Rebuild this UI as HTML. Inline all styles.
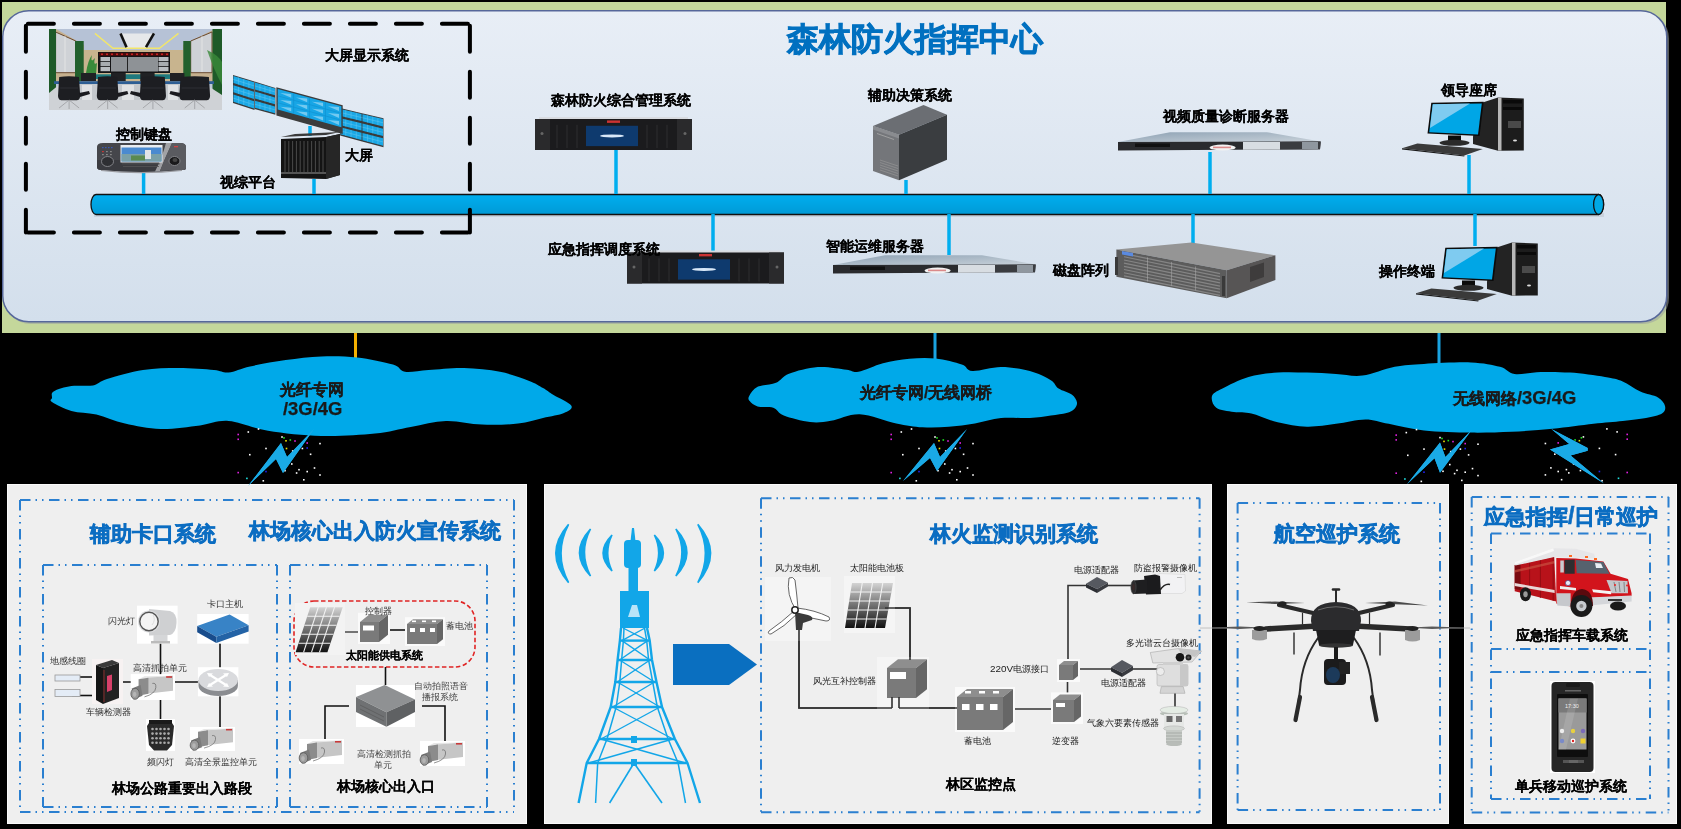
<!DOCTYPE html>
<html><head><meta charset="utf-8"><style>
html,body{margin:0;padding:0;}
body{width:1681px;height:829px;background:#000;position:relative;overflow:hidden;font-family:"Liberation Sans",sans-serif;}
svg{position:absolute;left:0;top:0;}
.t{position:absolute;line-height:1;white-space:nowrap;will-change:transform;}
</style></head><body>
<svg width="1681" height="829" viewBox="0 0 1681 829">
<defs>
<linearGradient id="gPanel" x1="0" y1="0" x2="0" y2="1"><stop offset="0" stop-color="#e8eef6"/><stop offset="1" stop-color="#d3dfec"/></linearGradient>
<linearGradient id="gBar" x1="0" y1="0" x2="0" y2="1"><stop offset="0" stop-color="#00aeef"/><stop offset="1" stop-color="#009ad6"/></linearGradient>
<linearGradient id="g1u" x1="0" y1="0" x2="1" y2="1"><stop offset="0" stop-color="#8ea2b4"/><stop offset="1" stop-color="#c9d2da"/></linearGradient>
<linearGradient id="gSolar" x1="0" y1="0" x2="0" y2="1"><stop offset="0" stop-color="#d4d4d4"/><stop offset="0.5" stop-color="#707070"/><stop offset="1" stop-color="#111"/></linearGradient>
</defs>
<rect x="2" y="2" width="1664" height="331" fill="#c4d79b"/><rect x="4.5" y="12.5" width="1664.5" height="311.5" rx="26" fill="#9aa0a0" opacity="0.55"/><rect x="2.75" y="10.75" width="1664" height="311" rx="26" fill="url(#gPanel)" stroke="#56679a" stroke-width="1.5"/><rect x="94" y="213" width="1510" height="4" fill="#000" opacity="0.08"/><path d="M96,194.5 L1598.6,194.5 A5,10 0 0 1 1598.6,214.5 L96,214.5 A5,10 0 0 1 96,194.5 Z" fill="url(#gBar)" stroke="#111" stroke-width="1.3"/><ellipse cx="1598.6" cy="204.5" rx="5" ry="10" fill="#00a8e4" stroke="#111" stroke-width="1.3"/><g fill="none" stroke="#000" stroke-width="4" stroke-dasharray="26 20" stroke-dashoffset="-2" stroke-linecap="round"><path d="M25.9,23.7 H469.9"/><path d="M469.9,23.7 V232.6"/><path d="M469.9,232.6 H25.9"/><path d="M25.9,23.7 V232.6"/></g><line x1="143.6" y1="172" x2="143.6" y2="194" stroke="#00aeef" stroke-width="3.5"/><line x1="314" y1="179" x2="314" y2="194" stroke="#00aeef" stroke-width="3.5"/><line x1="310" y1="126" x2="310" y2="136" stroke="#00aeef" stroke-width="3.5"/><line x1="616" y1="150" x2="616" y2="194" stroke="#00aeef" stroke-width="3.5"/><line x1="906" y1="180" x2="906" y2="194" stroke="#00aeef" stroke-width="3.5"/><line x1="1210" y1="152" x2="1210" y2="194" stroke="#00aeef" stroke-width="3.5"/><line x1="1469" y1="155" x2="1469" y2="194" stroke="#00aeef" stroke-width="3.5"/><line x1="713" y1="214" x2="713" y2="252" stroke="#00aeef" stroke-width="3.5"/><line x1="949" y1="214" x2="949" y2="255" stroke="#00aeef" stroke-width="3.5"/><line x1="1193" y1="214" x2="1193" y2="243" stroke="#00aeef" stroke-width="3.5"/><line x1="1475" y1="214" x2="1475" y2="246" stroke="#00aeef" stroke-width="3.5"/><line x1="355.5" y1="333" x2="355.5" y2="360" stroke="#f5b000" stroke-width="3"/><line x1="935" y1="333" x2="935" y2="360" stroke="#1aa3e0" stroke-width="3"/><line x1="1439" y1="333" x2="1439" y2="364" stroke="#1aa3e0" stroke-width="3"/><g fill="#00a9e9"><path d="M52.0,398.0 C52.3,396.2 50.4,393.4 53.6,391.4 C56.8,389.4 64.8,387.0 71.4,386.0 C78.0,385.0 87.1,386.6 93.0,385.4 C98.9,384.2 98.7,381.6 107.0,379.0 C115.3,376.4 131.1,371.8 143.0,370.0 C154.9,368.2 166.8,368.0 178.6,368.0 C190.4,368.0 205.7,369.2 214.0,370.0 C222.3,370.8 222.6,373.1 228.6,372.5 C234.6,371.9 240.5,368.5 250.0,366.4 C259.5,364.3 273.8,361.7 285.7,360.0 C297.6,358.3 309.5,356.8 321.4,356.4 C333.3,356.0 345.1,356.1 357.0,357.5 C368.9,358.9 385.0,362.2 393.0,364.6 C401.0,367.0 399.1,370.9 405.0,371.8 C410.9,372.7 418.8,370.6 428.6,370.0 C438.4,369.4 452.1,367.7 464.0,368.0 C475.9,368.3 489.2,369.7 500.0,371.8 C510.8,373.9 521.4,378.0 528.6,380.7 C535.8,383.4 538.8,385.6 543.0,388.0 C547.2,390.4 548.9,392.1 553.6,395.0 C558.3,397.9 569.7,402.7 571.4,405.7 C573.1,408.7 568.7,410.9 564.0,413.0 C559.3,415.1 550.7,416.2 543.0,418.0 C535.3,419.8 528.2,422.5 518.0,423.6 C507.8,424.7 494.0,425.0 482.0,424.6 C470.0,424.2 457.9,420.6 446.0,421.0 C434.1,421.4 422.5,424.9 410.7,427.0 C398.9,429.1 389.9,432.1 375.0,433.6 C360.1,435.1 339.2,436.5 321.4,436.0 C303.6,435.5 283.5,433.2 268.0,430.7 C252.5,428.2 239.9,421.9 228.6,421.0 C217.3,420.1 211.3,424.1 200.0,425.4 C188.7,426.7 173.2,429.3 160.7,429.0 C148.2,428.7 135.7,426.0 125.0,423.6 C114.3,421.2 105.3,416.7 96.4,414.6 C87.5,412.5 78.8,413.1 71.4,411.0 C64.0,408.9 55.2,404.2 52.0,402.0 C48.8,399.8 51.7,399.8 52.0,398.0 Z"/><path d="M749.2,396.0 C750.5,393.6 753.1,389.0 757.6,386.8 C762.1,384.6 770.8,385.0 776.0,382.8 C781.2,380.6 782.0,376.3 789.0,373.7 C796.0,371.1 808.2,367.7 817.8,367.0 C827.4,366.3 839.8,368.9 846.6,369.7 C853.4,370.5 852.3,372.9 858.4,371.8 C864.5,370.7 874.5,365.4 883.0,363.2 C891.5,361.0 900.6,359.5 909.4,358.7 C918.2,357.9 926.9,357.5 935.6,358.5 C944.3,359.5 955.7,362.4 961.8,364.5 C967.9,366.6 965.8,370.6 972.3,371.0 C978.8,371.4 991.4,367.0 1001.0,367.0 C1010.6,367.0 1021.5,368.8 1029.8,371.0 C1038.1,373.2 1046.0,377.3 1050.8,380.2 C1055.6,383.1 1055.1,386.2 1058.6,388.6 C1062.1,391.0 1068.6,392.3 1071.7,394.6 C1074.8,396.9 1076.6,400.1 1077.0,402.5 C1077.4,404.9 1076.0,407.2 1074.3,409.0 C1072.5,410.8 1070.4,411.9 1066.5,413.0 C1062.6,414.1 1056.9,414.7 1050.8,415.5 C1044.7,416.3 1038.1,417.6 1029.8,418.0 C1021.5,418.4 1010.1,417.1 1001.0,418.0 C991.9,418.9 983.6,421.9 974.9,423.4 C966.2,424.9 957.4,426.1 948.7,426.8 C940.0,427.5 931.2,427.9 922.5,427.3 C913.8,426.7 906.8,425.6 896.3,423.4 C885.8,421.2 870.6,414.6 859.7,414.2 C848.8,413.8 839.2,419.5 830.9,420.8 C822.6,422.1 817.9,422.9 810.0,422.0 C802.1,421.1 789.9,417.9 783.8,415.5 C777.7,413.1 777.7,409.2 773.3,407.7 C768.9,406.2 761.5,407.5 757.6,406.4 C753.7,405.3 751.1,402.7 749.7,401.0 C748.3,399.3 747.9,398.4 749.2,396.0 Z"/><path d="M1212.0,396.0 C1213.0,392.8 1215.9,391.9 1222.0,388.7 C1228.1,385.5 1239.2,379.7 1248.5,377.0 C1257.8,374.3 1268.0,373.3 1277.7,372.6 C1287.5,371.9 1297.3,372.4 1307.0,372.6 C1316.7,372.8 1326.8,373.5 1336.0,374.0 C1345.2,374.5 1352.7,376.8 1362.5,375.6 C1372.3,374.4 1384.5,368.8 1394.7,366.8 C1405.0,364.9 1411.3,364.6 1424.0,363.9 C1436.7,363.2 1458.3,361.9 1471.0,362.4 C1483.7,362.9 1492.7,364.9 1500.0,366.8 C1507.3,368.7 1507.8,373.1 1514.6,374.0 C1521.4,374.9 1531.8,372.2 1541.0,372.0 C1550.2,371.8 1559.3,371.8 1570.0,372.6 C1580.7,373.4 1596.2,375.5 1605.0,377.0 C1613.8,378.5 1616.8,379.0 1622.7,381.4 C1628.6,383.8 1634.4,388.9 1640.3,391.6 C1646.2,394.3 1653.9,395.1 1658.0,397.5 C1662.1,399.9 1664.3,403.3 1665.0,406.0 C1665.7,408.7 1665.2,411.6 1662.0,413.6 C1658.8,415.6 1652.5,416.8 1646.0,418.0 C1639.5,419.2 1631.5,420.0 1622.7,421.0 C1614.0,422.0 1605.2,422.5 1593.5,423.8 C1581.8,425.1 1566.2,427.5 1552.6,428.8 C1538.9,430.1 1525.2,431.1 1511.6,431.7 C1498.0,432.3 1485.6,432.8 1471.0,432.6 C1456.4,432.4 1437.7,432.0 1424.0,430.5 C1410.3,429.0 1398.6,425.7 1388.8,423.8 C1379.0,421.9 1374.2,419.4 1365.4,419.4 C1356.6,419.4 1345.7,422.6 1336.0,423.8 C1326.3,425.0 1316.7,426.9 1307.0,426.7 C1297.3,426.4 1287.0,424.5 1277.7,422.3 C1268.4,420.1 1258.7,415.3 1251.4,413.6 C1244.1,411.9 1239.8,413.0 1233.9,412.0 C1228.1,411.0 1220.0,410.4 1216.3,407.7 C1212.6,405.0 1211.0,399.2 1212.0,396.0 Z"/></g><g fill="#1aaae6"><polygon points="248,486 281,443 287,457 314,429 283,473 276,459"/><polygon points="903,481 934,443 940,457 967,429 937,471 930,458"/><polygon points="1407,484.3 1440,442.6 1445.4,457 1472,429.6 1440,472.7 1434.5,458.3"/><polygon points="1551.4,428.9 1587.7,448 1587.7,450.8 1570.6,455.6 1604,483.6 1550,449.4 1569.2,444"/></g><rect x="7.5" y="484.5" width="519" height="339" fill="#efefef" stroke="#fafafa" stroke-width="1"/><rect x="544.5" y="484.5" width="667" height="339" fill="#efefef" stroke="#fafafa" stroke-width="1"/><rect x="1227.5" y="484.5" width="221" height="339" fill="#efefef" stroke="#fafafa" stroke-width="1"/><rect x="1464.5" y="484.5" width="212" height="339" fill="#efefef" stroke="#fafafa" stroke-width="1"/><g stroke="#2a7fd0" stroke-width="2" fill="none" stroke-dasharray="10.5 5 1.5 5 1.5 5.5"><path d="M20,500 H514"/><path d="M20,812 H514"/><path d="M20,500 V812"/><path d="M514,500 V812"/></g><g stroke="#2a7fd0" stroke-width="2" fill="none" stroke-dasharray="10.5 5 1.5 5 1.5 5.5"><path d="M43,565 H277"/><path d="M43,807 H277"/><path d="M43,565 V807"/><path d="M277,565 V807"/></g><g stroke="#2a7fd0" stroke-width="2" fill="none" stroke-dasharray="10.5 5 1.5 5 1.5 5.5"><path d="M290,565 H487"/><path d="M290,807 H487"/><path d="M290,565 V807"/><path d="M487,565 V807"/></g><g stroke="#2a7fd0" stroke-width="2" fill="none" stroke-dasharray="10.5 5 1.5 5 1.5 5.5"><path d="M761,498.3 H1199.6"/><path d="M761,812.2 H1199.6"/><path d="M761,498.3 V812.2"/><path d="M1199.6,498.3 V812.2"/></g><g stroke="#2a7fd0" stroke-width="2" fill="none" stroke-dasharray="10.5 5 1.5 5 1.5 5.5"><path d="M1237.6,503 H1440"/><path d="M1237.6,810 H1440"/><path d="M1237.6,503 V810"/><path d="M1440,503 V810"/></g><g stroke="#2a7fd0" stroke-width="2" fill="none" stroke-dasharray="10.5 5 1.5 5 1.5 5.5"><path d="M1471.7,497 H1668.5"/><path d="M1471.7,812.5 H1668.5"/><path d="M1471.7,497 V812.5"/><path d="M1668.5,497 V812.5"/></g><g stroke="#2a7fd0" stroke-width="2" fill="none" stroke-dasharray="10.5 5 1.5 5 1.5 5.5"><path d="M1491,533.5 H1650"/><path d="M1491,799 H1650"/><path d="M1491,533.5 V799"/><path d="M1650,533.5 V799"/></g><line x1="1491" y1="649" x2="1650" y2="649" stroke="#2a7fd0" stroke-width="2" fill="none" stroke-dasharray="10.5 5 1.5 5 1.5 5.5"/><line x1="1491" y1="672" x2="1650" y2="672" stroke="#2a7fd0" stroke-width="2" fill="none" stroke-dasharray="10.5 5 1.5 5 1.5 5.5"/><rect x="294" y="601" width="181" height="66" rx="20" fill="none" stroke="#e02424" stroke-width="1.6" stroke-dasharray="4.5 2.5"/>
<g>
<rect x="49" y="29" width="173" height="81" fill="#bcc6d6"/>
<polygon points="56,29 215,29 183,50 84,50" fill="#b6c2d6"/>
<polygon points="56,29 84,45 84,84 56,84" fill="#c6b08e"/>
<polygon points="55.6,32 75.8,41 75.8,72.7 55.6,72.7" fill="#cfd2d6" stroke="#6a4a30" stroke-width="1"/>
<line x1="65" y1="36" x2="65" y2="72" stroke="#e8e8e8" stroke-width="0.8"/>
<polygon points="84,50 183,50 183,84 84,84" fill="#c8b48e"/>
<polygon points="119.3,33.4 155.2,33.4 145.6,48.3 126.7,48.3" fill="#e6e8ea"/>
<polyline points="94.9,33.4 113,48.3 159.4,48.3 178.5,33.4" fill="none" stroke="#f2e66a" stroke-width="1.4"/>
<line x1="120.5" y1="33.4" x2="126.5" y2="47.2" stroke="#111" stroke-width="2.6"/>
<line x1="154" y1="33.4" x2="146" y2="47.2" stroke="#111" stroke-width="2.6"/>

<polygon points="215,29 183,45 183,84 215,84" fill="#c6b08e"/>
<polygon points="212,32 190.7,41 190.7,72.7 212,72.7" fill="#cfd2d6" stroke="#6a4a30" stroke-width="1"/>
<line x1="202" y1="36" x2="202" y2="72" stroke="#e8e8e8" stroke-width="0.8"/>
<rect x="49" y="29" width="7" height="66" fill="#1e5a28"/>
<rect x="75" y="41" width="8.7" height="40" fill="#22602c"/>
<rect x="183.3" y="41" width="7.4" height="40" fill="#22602c"/>
<rect x="212.5" y="29" width="9.5" height="66" fill="#1e5a28"/>
<path d="M86,73 Q88,60 92,55 Q90,64 95,58 Q93,66 97,63 L96,74 Z" fill="#3a8a3a"/>
<path d="M207,50 Q218,55 222,62 L222,85 Q214,70 207,50 Z" fill="#3a8a3a" opacity="0.8"/>
<rect x="98" y="52" width="72" height="21" fill="#141416"/>
<rect x="99" y="52.8" width="70" height="3" fill="#4a0c0c"/>
<g fill="#c82020"><rect x="101" y="53.5" width="2" height="1.6"/><rect x="106" y="53.5" width="2" height="1.6"/><rect x="111" y="53.5" width="2" height="1.6"/><rect x="116" y="53.5" width="2" height="1.6"/><rect x="121" y="53.5" width="2" height="1.6"/><rect x="126" y="53.5" width="2" height="1.6"/><rect x="131" y="53.5" width="2" height="1.6"/><rect x="136" y="53.5" width="2" height="1.6"/><rect x="141" y="53.5" width="2" height="1.6"/><rect x="146" y="53.5" width="2" height="1.6"/><rect x="151" y="53.5" width="2" height="1.6"/><rect x="156" y="53.5" width="2" height="1.6"/><rect x="161" y="53.5" width="2" height="1.6"/><rect x="166" y="53.5" width="2" height="1.6"/></g>
<rect x="100.5" y="57" width="9.5" height="4.2" fill="#b8bcc0"/><rect x="100.5" y="62" width="9.5" height="4.2" fill="#a8acb0"/><rect x="100.5" y="67" width="9.5" height="4.2" fill="#b8bcc0"/>
<rect x="111" y="57" width="47" height="14.5" fill="#8e9296"/>
<rect x="127" y="57" width="1" height="14.5" fill="#222"/>
<rect x="158.5" y="57" width="10" height="4.2" fill="#b8bcc0"/><rect x="158.5" y="62" width="10" height="4.2" fill="#a8acb0"/><rect x="158.5" y="67" width="10" height="4.2" fill="#b8bcc0"/>
<rect x="84" y="74.3" width="99" height="4.7" fill="#1f7a7e"/>
<rect x="81" y="73" width="15" height="8" fill="#202124"/><rect x="111" y="73" width="14.7" height="8" fill="#202124"/><rect x="140.3" y="73" width="14.3" height="8" fill="#202124"/><rect x="170" y="73" width="14.4" height="8" fill="#202124"/>
<polygon points="49,93 60,84 205,84 222,95 222,110 49,110" fill="#cfd2d6"/>
<rect x="54" y="81.2" width="160" height="2.8" fill="#2d5e94"/>
<rect x="62" y="84" width="145" height="16" fill="#c4c8cc"/>
<g fill="#e0e2e4"><rect x="82" y="85" width="10" height="15"/><rect x="122" y="85" width="12" height="15"/><rect x="168" y="85" width="10" height="15"/></g>
<path d="M59.2,77 Q69.1,75.5 79,77 L80,93 Q81,100 77,100.3 L61.2,100.3 Q57.2,100 58.2,93 Z" fill="#1d1e22"/><path d="M60.2,88 L78,88" stroke="#2e2f34" stroke-width="1"/><path d="M79,93 L89,91 L90,94 L80,97 Z" fill="#1a1a1e"/><g stroke="#9a9ca0" stroke-width="0.8"><line x1="69.1" y1="100" x2="59.099999999999994" y2="108"/><line x1="69.1" y1="100" x2="79.1" y2="108"/><line x1="69.1" y1="100" x2="69.1" y2="109"/></g><path d="M98,77 Q107.65,75.5 117.3,77 L118.3,93 Q119.3,100 115.3,100.3 L100,100.3 Q96,100 97,93 Z" fill="#1d1e22"/><path d="M99,88 L116.3,88" stroke="#2e2f34" stroke-width="1"/><path d="M117.3,93 L127.3,91 L128.3,94 L118.3,97 Z" fill="#1a1a1e"/><g stroke="#9a9ca0" stroke-width="0.8"><line x1="107.65" y1="100" x2="97.65" y2="108"/><line x1="107.65" y1="100" x2="117.65" y2="108"/><line x1="107.65" y1="100" x2="107.65" y2="109"/></g><path d="M141,77 Q152.9,75.5 164.8,77 L165.8,93 Q166.8,100 162.8,100.3 L143,100.3 Q139,100 140,93 Z" fill="#1d1e22"/><path d="M142,88 L163.8,88" stroke="#2e2f34" stroke-width="1"/><path d="M141,93 L131,91 L130,94 L140,97 Z" fill="#1a1a1e"/><g stroke="#9a9ca0" stroke-width="0.8"><line x1="152.9" y1="100" x2="142.9" y2="108"/><line x1="152.9" y1="100" x2="162.9" y2="108"/><line x1="152.9" y1="100" x2="152.9" y2="109"/></g><path d="M180.5,77 Q194.7,75.5 208.9,77 L209.9,93 Q210.9,100 206.9,100.3 L182.5,100.3 Q178.5,100 179.5,93 Z" fill="#1d1e22"/><path d="M181.5,88 L207.9,88" stroke="#2e2f34" stroke-width="1"/><path d="M180.5,93 L170.5,91 L169.5,94 L179.5,97 Z" fill="#1a1a1e"/><g stroke="#9a9ca0" stroke-width="0.8"><line x1="194.7" y1="100" x2="184.7" y2="108"/><line x1="194.7" y1="100" x2="204.7" y2="108"/><line x1="194.7" y1="100" x2="194.7" y2="109"/></g></g><g><polygon points="233.00,74.90 254.50,81.50 254.50,110.00 233.00,103.00" fill="#3a3a3a" /><polygon points="233.43,75.88 254.07,82.22 254.07,89.44 233.43,83.00" fill="#1aa8e6" /><line x1="238.59" y1="77.46" x2="238.59" y2="84.61" stroke="#66c6ef" stroke-width="0.5"/><line x1="243.75" y1="79.05" x2="243.75" y2="86.22" stroke="#66c6ef" stroke-width="0.5"/><line x1="248.91" y1="80.64" x2="248.91" y2="87.83" stroke="#66c6ef" stroke-width="0.5"/><line x1="233.43" y1="79.44" x2="254.07" y2="85.83" stroke="#66c6ef" stroke-width="0.5"/><polygon points="233.43,85.24 254.07,91.72 254.07,98.94 233.43,92.37" fill="#1aa8e6" /><line x1="238.59" y1="86.86" x2="238.59" y2="94.01" stroke="#66c6ef" stroke-width="0.5"/><line x1="243.75" y1="88.48" x2="243.75" y2="95.65" stroke="#66c6ef" stroke-width="0.5"/><line x1="248.91" y1="90.10" x2="248.91" y2="97.29" stroke="#66c6ef" stroke-width="0.5"/><line x1="233.43" y1="88.80" x2="254.07" y2="95.33" stroke="#66c6ef" stroke-width="0.5"/><polygon points="233.43,94.61 254.07,101.22 254.07,108.44 233.43,101.73" fill="#1aa8e6" /><line x1="238.59" y1="96.26" x2="238.59" y2="103.41" stroke="#66c6ef" stroke-width="0.5"/><line x1="243.75" y1="97.92" x2="243.75" y2="105.09" stroke="#66c6ef" stroke-width="0.5"/><line x1="248.91" y1="99.57" x2="248.91" y2="106.76" stroke="#66c6ef" stroke-width="0.5"/><line x1="233.43" y1="98.17" x2="254.07" y2="104.83" stroke="#66c6ef" stroke-width="0.5"/><polygon points="254.50,81.50 275.40,87.90 275.40,114.70 254.50,109.00" fill="#3a3a3a" /><polygon points="254.92,82.45 274.98,88.58 274.98,95.37 254.92,89.42" fill="#1aa8e6" /><line x1="259.93" y1="83.98" x2="259.93" y2="90.90" stroke="#66c6ef" stroke-width="0.5"/><line x1="264.95" y1="85.51" x2="264.95" y2="92.39" stroke="#66c6ef" stroke-width="0.5"/><line x1="269.97" y1="87.05" x2="269.97" y2="93.88" stroke="#66c6ef" stroke-width="0.5"/><line x1="254.92" y1="85.93" x2="274.98" y2="91.97" stroke="#66c6ef" stroke-width="0.5"/><polygon points="254.92,91.61 274.98,97.51 274.98,104.31 254.92,98.58" fill="#1aa8e6" /><line x1="259.93" y1="93.09" x2="259.93" y2="100.01" stroke="#66c6ef" stroke-width="0.5"/><line x1="264.95" y1="94.56" x2="264.95" y2="101.44" stroke="#66c6ef" stroke-width="0.5"/><line x1="269.97" y1="96.04" x2="269.97" y2="102.87" stroke="#66c6ef" stroke-width="0.5"/><line x1="254.92" y1="95.10" x2="274.98" y2="100.91" stroke="#66c6ef" stroke-width="0.5"/><polygon points="254.92,100.78 274.98,106.45 274.98,113.25 254.92,107.74" fill="#1aa8e6" /><line x1="259.93" y1="102.20" x2="259.93" y2="109.12" stroke="#66c6ef" stroke-width="0.5"/><line x1="264.95" y1="103.61" x2="264.95" y2="110.49" stroke="#66c6ef" stroke-width="0.5"/><line x1="269.97" y1="105.03" x2="269.97" y2="111.87" stroke="#66c6ef" stroke-width="0.5"/><line x1="254.92" y1="104.26" x2="274.98" y2="109.85" stroke="#66c6ef" stroke-width="0.5"/><polygon points="340.10,108.10 362.00,113.20 362.00,141.50 340.10,135.60" fill="#3a3a3a" /><polygon points="340.54,109.03 361.56,113.95 361.56,121.11 340.54,116.00" fill="#1aa8e6" /><line x1="345.79" y1="110.26" x2="345.79" y2="117.28" stroke="#66c6ef" stroke-width="0.5"/><line x1="351.05" y1="111.49" x2="351.05" y2="118.56" stroke="#66c6ef" stroke-width="0.5"/><line x1="356.31" y1="112.72" x2="356.31" y2="119.83" stroke="#66c6ef" stroke-width="0.5"/><line x1="340.54" y1="112.51" x2="361.56" y2="117.53" stroke="#66c6ef" stroke-width="0.5"/><polygon points="340.54,118.20 361.56,123.37 361.56,130.54 340.54,125.17" fill="#1aa8e6" /><line x1="345.79" y1="119.49" x2="345.79" y2="126.51" stroke="#66c6ef" stroke-width="0.5"/><line x1="351.05" y1="120.79" x2="351.05" y2="127.86" stroke="#66c6ef" stroke-width="0.5"/><line x1="356.31" y1="122.08" x2="356.31" y2="129.20" stroke="#66c6ef" stroke-width="0.5"/><line x1="340.54" y1="121.68" x2="361.56" y2="126.96" stroke="#66c6ef" stroke-width="0.5"/><polygon points="340.54,127.37 361.56,132.80 361.56,139.97 340.54,134.34" fill="#1aa8e6" /><line x1="345.79" y1="128.73" x2="345.79" y2="135.75" stroke="#66c6ef" stroke-width="0.5"/><line x1="351.05" y1="130.09" x2="351.05" y2="137.16" stroke="#66c6ef" stroke-width="0.5"/><line x1="356.31" y1="131.44" x2="356.31" y2="138.56" stroke="#66c6ef" stroke-width="0.5"/><line x1="340.54" y1="130.86" x2="361.56" y2="136.39" stroke="#66c6ef" stroke-width="0.5"/><polygon points="362.00,113.20 383.50,118.30 383.50,147.20 362.00,141.50" fill="#3a3a3a" /><polygon points="362.43,114.15 383.07,119.06 383.07,126.38 362.43,121.32" fill="#1aa8e6" /><line x1="367.59" y1="115.38" x2="367.59" y2="122.59" stroke="#66c6ef" stroke-width="0.5"/><line x1="372.75" y1="116.61" x2="372.75" y2="123.85" stroke="#66c6ef" stroke-width="0.5"/><line x1="377.91" y1="117.84" x2="377.91" y2="125.12" stroke="#66c6ef" stroke-width="0.5"/><line x1="362.43" y1="117.74" x2="383.07" y2="122.72" stroke="#66c6ef" stroke-width="0.5"/><polygon points="362.43,123.59 383.07,128.69 383.07,136.01 362.43,130.76" fill="#1aa8e6" /><line x1="367.59" y1="124.87" x2="367.59" y2="132.07" stroke="#66c6ef" stroke-width="0.5"/><line x1="372.75" y1="126.14" x2="372.75" y2="133.39" stroke="#66c6ef" stroke-width="0.5"/><line x1="377.91" y1="127.42" x2="377.91" y2="134.70" stroke="#66c6ef" stroke-width="0.5"/><line x1="362.43" y1="127.17" x2="383.07" y2="132.35" stroke="#66c6ef" stroke-width="0.5"/><polygon points="362.43,133.03 383.07,138.32 383.07,145.64 362.43,140.20" fill="#1aa8e6" /><line x1="367.59" y1="134.35" x2="367.59" y2="141.56" stroke="#66c6ef" stroke-width="0.5"/><line x1="372.75" y1="135.67" x2="372.75" y2="142.92" stroke="#66c6ef" stroke-width="0.5"/><line x1="377.91" y1="137.00" x2="377.91" y2="144.28" stroke="#66c6ef" stroke-width="0.5"/><line x1="362.43" y1="136.61" x2="383.07" y2="141.98" stroke="#66c6ef" stroke-width="0.5"/><polygon points="276.40,87.20 342.70,105.30 342.70,134.00 276.40,115.40" fill="#3c3c3c" /><polygon points="277.73,88.97 341.37,106.37 341.37,127.32 277.73,109.57" fill="#17a6e6" /><line x1="293.64" y1="93.32" x2="293.64" y2="114.00" stroke="#0f8fcf" stroke-width="0.6"/><line x1="309.55" y1="97.67" x2="309.55" y2="118.44" stroke="#0f8fcf" stroke-width="0.6"/><line x1="325.46" y1="102.02" x2="325.46" y2="122.88" stroke="#0f8fcf" stroke-width="0.6"/><polygon points="280.11,93.06 291.25,94.05 291.25,97.84" fill="#bfe6f8" opacity="0.55"/><polygon points="296.02,97.42 307.16,98.40 307.16,102.21" fill="#bfe6f8" opacity="0.55"/><polygon points="311.94,101.79 323.08,102.76 323.08,106.58" fill="#bfe6f8" opacity="0.55"/><polygon points="327.85,106.15 338.99,107.12 338.99,110.95" fill="#bfe6f8" opacity="0.55"/><polygon points="280.11,99.93 291.25,100.94 291.25,104.73" fill="#bfe6f8" opacity="0.55"/><polygon points="296.02,104.32 307.16,105.32 307.16,109.13" fill="#bfe6f8" opacity="0.55"/><polygon points="311.94,108.72 323.08,109.71 323.08,113.53" fill="#bfe6f8" opacity="0.55"/><polygon points="327.85,113.11 338.99,114.09 338.99,117.93" fill="#bfe6f8" opacity="0.55"/><polygon points="280.11,106.80 291.25,107.83 291.25,111.62" fill="#bfe6f8" opacity="0.55"/><polygon points="296.02,111.22 307.16,112.24 307.16,116.05" fill="#bfe6f8" opacity="0.55"/><polygon points="311.94,115.64 323.08,116.65 323.08,120.48" fill="#bfe6f8" opacity="0.55"/><polygon points="327.85,120.07 338.99,121.07 338.99,124.91" fill="#bfe6f8" opacity="0.55"/><line x1="277.73" y1="95.83" x2="341.37" y2="113.35" stroke="#0f8fcf" stroke-width="0.6"/><line x1="277.73" y1="102.71" x2="341.37" y2="120.34" stroke="#0f8fcf" stroke-width="0.6"/></g><g>
<path d="M97,147 Q97,143 103,143 L180,143 Q186,143 186,147 L186,168 Q186,170 182,170 Q141,174 101,170 Q97,170 97,167 Z" fill="#45464b"/>
<path d="M97,160 L186,160 L186,168 Q186,170 182,170 Q141,174 101,170 Q97,170 97,167 Z" fill="#3a3b40"/>
<path d="M166,143 L172,143 Q165,158 160,171 L155,171.5 Q162,158 166,143 Z" fill="#b8b9bc" opacity="0.8"/>
<path d="M172,143 L180,143 Q186,143 186,147 L186,168 Q186,170 182,170 L160,171 Q165,158 172,143 Z" fill="#5a5b60"/>
<path d="M101,170 Q141,174 182,170 L182,171 Q141,175.5 101,171 Z" fill="#9a9ba0"/>
<rect x="120.5" y="145" width="42" height="17.5" fill="#e8ecf0"/>
<rect x="121.5" y="147.5" width="40" height="14" fill="#4a8ad0"/>
<rect x="121.5" y="154" width="40" height="7.5" fill="#7aa0a8"/>
<rect x="145" y="150" width="6" height="9" fill="#e0e4e8"/>
<rect x="131" y="155.5" width="14" height="5" fill="#5a8a50"/>
<g fill="#555"><rect x="122" y="163.5" width="38" height="0.8"/><rect x="123" y="166" width="36" height="0.8"/></g>
<ellipse cx="107.5" cy="161.5" rx="6" ry="5" fill="#2e2f33" stroke="#8a8b90" stroke-width="0.9"/>
<ellipse cx="174.5" cy="161" rx="5.5" ry="4.5" fill="#1a1a1c" stroke="#8a8b90" stroke-width="0.9"/>
<ellipse cx="175" cy="160" rx="2.5" ry="2" fill="#444"/>
<g fill="#3a5ab0"><rect x="102" y="147" width="1.6" height="1.2"/><rect x="105" y="147" width="1.6" height="1.2"/><rect x="108" y="147" width="1.6" height="1.2"/><rect x="111" y="147" width="1.6" height="1.2"/></g>
<g fill="#888"><rect x="102" y="151" width="1.8" height="1.2" fill="#c33"/><rect x="106" y="151" width="1.8" height="1.2"/><rect x="110" y="151" width="1.8" height="1.2"/><rect x="102" y="154" width="1.8" height="1.2"/><rect x="106" y="154" width="1.8" height="1.2"/><rect x="110" y="154" width="1.8" height="1.2"/></g>
<rect x="174" y="146" width="4" height="1.3" fill="#c44"/>
</g><g><polygon points="281,139 326,137 340,134 340,175 326,179 281,178" fill="#141414"/><polygon points="326,137 340,134 340,175 326,179" fill="#262626"/><polygon points="281,137 326,135 340,132 295,134" fill="#3a3a3a"/><line x1="285.0" y1="141" x2="285.0" y2="173" stroke="#4a4a4a" stroke-width="1"/><line x1="288.8" y1="141" x2="288.8" y2="173" stroke="#4a4a4a" stroke-width="1"/><line x1="292.6" y1="141" x2="292.6" y2="173" stroke="#4a4a4a" stroke-width="1"/><line x1="296.4" y1="141" x2="296.4" y2="173" stroke="#4a4a4a" stroke-width="1"/><line x1="300.2" y1="141" x2="300.2" y2="173" stroke="#4a4a4a" stroke-width="1"/><line x1="304.0" y1="141" x2="304.0" y2="173" stroke="#4a4a4a" stroke-width="1"/><line x1="307.8" y1="141" x2="307.8" y2="173" stroke="#4a4a4a" stroke-width="1"/><line x1="311.6" y1="141" x2="311.6" y2="173" stroke="#4a4a4a" stroke-width="1"/><line x1="315.4" y1="141" x2="315.4" y2="173" stroke="#4a4a4a" stroke-width="1"/><line x1="319.2" y1="141" x2="319.2" y2="173" stroke="#4a4a4a" stroke-width="1"/><line x1="323.0" y1="141" x2="323.0" y2="173" stroke="#4a4a4a" stroke-width="1"/><rect x="281" y="172" width="45" height="2" fill="#555"/></g><g>
<rect x="539.0" y="117.0625" width="149.0" height="2.90625" fill="#d8dbe0"/>
<rect x="535" y="119" width="157" height="31" fill="#1b1b1d"/>
<rect x="535.0" y="119.0" width="15.0" height="31" fill="#2a2a2c"/>
<rect x="677.0" y="119.0" width="15.0" height="31" fill="#2a2a2c"/>
<rect x="586.0" y="125.78125" width="52.0" height="20.34375" fill="#0e3a6e"/>
<ellipse cx="612.0" cy="135.953125" rx="12.0" ry="1.55" fill="#d8e8f8"/>
<rect x="607.0" y="120.453125" width="13.0" height="2.421875" fill="#c33"/>
<g stroke="#2e2e30" stroke-width="1">
<line x1="557.0" y1="124.8125" x2="557.0" y2="148.0625"/><line x1="567.0" y1="124.8125" x2="567.0" y2="148.0625"/><line x1="577.0" y1="124.8125" x2="577.0" y2="148.0625"/>
<line x1="647.0" y1="124.8125" x2="647.0" y2="148.0625"/><line x1="657.0" y1="124.8125" x2="657.0" y2="148.0625"/><line x1="667.0" y1="124.8125" x2="667.0" y2="148.0625"/>
</g>
<circle cx="542.0" cy="133.53125" r="1.5" fill="#666"/><circle cx="685.0" cy="133.53125" r="1.5" fill="#666"/>
</g><g>
<rect x="631.0" y="250.5625" width="149.0" height="2.90625" fill="#d8dbe0"/>
<rect x="627" y="252.5" width="157" height="31" fill="#1b1b1d"/>
<rect x="627.0" y="252.5" width="15.0" height="31" fill="#2a2a2c"/>
<rect x="769.0" y="252.5" width="15.0" height="31" fill="#2a2a2c"/>
<rect x="678.0" y="259.28125" width="52.0" height="20.34375" fill="#0e3a6e"/>
<ellipse cx="704.0" cy="269.453125" rx="12.0" ry="1.55" fill="#d8e8f8"/>
<rect x="699.0" y="253.953125" width="13.0" height="2.421875" fill="#c33"/>
<g stroke="#2e2e30" stroke-width="1">
<line x1="649.0" y1="258.3125" x2="649.0" y2="281.5625"/><line x1="659.0" y1="258.3125" x2="659.0" y2="281.5625"/><line x1="669.0" y1="258.3125" x2="669.0" y2="281.5625"/>
<line x1="739.0" y1="258.3125" x2="739.0" y2="281.5625"/><line x1="749.0" y1="258.3125" x2="749.0" y2="281.5625"/><line x1="759.0" y1="258.3125" x2="759.0" y2="281.5625"/>
</g>
<circle cx="634.0" cy="267.03125" r="1.5" fill="#666"/><circle cx="777.0" cy="267.03125" r="1.5" fill="#666"/>
</g><g>
<polygon points="873,126 923.5,105 947,114.7 899,134.7" fill="#6b6e73"/>
<polygon points="873,126 899,134.7 899,180.3 873,171" fill="#74767a"/>
<polygon points="873,126 899,134.7 899,138.5 873,129.5" fill="#8a8c90"/>
<polygon points="899,134.7 947,114.7 947,159.7 899,180.3" fill="#3a3d40"/>
<line x1="877" y1="133.5" x2="894" y2="139.5" stroke="#aaa" stroke-width="0.8"/>
<g stroke="#999" stroke-width="0.6">
<line x1="880" y1="160" x2="898" y2="166"/><line x1="880" y1="162.5" x2="898" y2="168.5"/><line x1="880" y1="165" x2="898" y2="171"/><line x1="880" y1="167.5" x2="898" y2="173.5"/><line x1="880" y1="170" x2="898" y2="176"/>
</g>
</g><g transform="translate(0,0)">
<polygon points="1118,142 1170,132.2 1267,132.2 1320.7,141.4" fill="url(#g1u)"/>
<polygon points="1118,142 1320.7,141.4 1320,149.2 1118,150.5" fill="#2a2b2e"/>
<polygon points="1243,142 1280,142 1280,149.5 1243,149.8" fill="#d8dde2"/>
<polygon points="1280,142 1320.7,141.4 1320,149.2 1280,149.5" fill="#3a3c40"/>
<rect x="1302" y="142" width="16" height="7" fill="#8f979f"/>
<ellipse cx="1222.6" cy="147.5" rx="13" ry="3" fill="#f2f2f2"/>
<rect x="1213" y="146.6" width="18" height="1.6" fill="#c44" opacity="0.6"/>
<rect x="1135" y="143.5" width="35" height="3.5" fill="#111"/>
</g><g transform="translate(-285,123)">
<polygon points="1118,142 1170,132.2 1267,132.2 1320.7,141.4" fill="url(#g1u)"/>
<polygon points="1118,142 1320.7,141.4 1320,149.2 1118,150.5" fill="#2a2b2e"/>
<polygon points="1243,142 1280,142 1280,149.5 1243,149.8" fill="#d8dde2"/>
<polygon points="1280,142 1320.7,141.4 1320,149.2 1280,149.5" fill="#3a3c40"/>
<rect x="1302" y="142" width="16" height="7" fill="#8f979f"/>
<ellipse cx="1222.6" cy="147.5" rx="13" ry="3" fill="#f2f2f2"/>
<rect x="1213" y="146.6" width="18" height="1.6" fill="#c44" opacity="0.6"/>
<rect x="1135" y="143.5" width="35" height="3.5" fill="#111"/>
</g><g transform="translate(0,0)">
<polygon points="1478,104 1498,97.6 1498,150.8 1473,144 1473,137" fill="#232323"/>
<polygon points="1498,97.6 1523.8,98.4 1523.8,150.4 1498,150.8" fill="#1c1c1c"/>
<rect x="1498" y="97.6" width="3.5" height="53" fill="#b8b8b8"/>
<rect x="1503" y="100" width="19" height="3.5" fill="#0a0a0a"/>
<rect x="1503" y="107" width="19" height="3" fill="#0a0a0a"/>
<rect x="1508" y="121" width="13" height="7" fill="#4a4a4a"/>
<ellipse cx="1515" cy="140.5" rx="2" ry="1" fill="#ddd"/>
<polygon points="1431.3,102.7 1483.7,101.8 1479.5,136 1427.5,133.5" fill="#0b0b0b"/>
<polygon points="1432.8,104.2 1481.8,103.4 1478,134.5 1429.2,132.2" fill="#00a6e6"/>
<polygon points="1432.8,104.2 1470,103.6 1430,128" fill="#7fcbf0"/>
<rect x="1448" y="135.5" width="13" height="6" fill="#0b0b0b"/>
<ellipse cx="1454.5" cy="142.8" rx="15" ry="3" fill="#2a2a2a"/>
<polygon points="1402,148.3 1417.4,143.6 1482.8,149 1464.3,155.5" fill="#3a3a3a"/>
<polygon points="1402,148.3 1464.3,155.5 1464.3,156.5 1402,149.5" fill="#1a1a1a"/>
</g><g transform="translate(14,145)">
<polygon points="1478,104 1498,97.6 1498,150.8 1473,144 1473,137" fill="#232323"/>
<polygon points="1498,97.6 1523.8,98.4 1523.8,150.4 1498,150.8" fill="#1c1c1c"/>
<rect x="1498" y="97.6" width="3.5" height="53" fill="#b8b8b8"/>
<rect x="1503" y="100" width="19" height="3.5" fill="#0a0a0a"/>
<rect x="1503" y="107" width="19" height="3" fill="#0a0a0a"/>
<rect x="1508" y="121" width="13" height="7" fill="#4a4a4a"/>
<ellipse cx="1515" cy="140.5" rx="2" ry="1" fill="#ddd"/>
<polygon points="1431.3,102.7 1483.7,101.8 1479.5,136 1427.5,133.5" fill="#0b0b0b"/>
<polygon points="1432.8,104.2 1481.8,103.4 1478,134.5 1429.2,132.2" fill="#00a6e6"/>
<polygon points="1432.8,104.2 1470,103.6 1430,128" fill="#7fcbf0"/>
<rect x="1448" y="135.5" width="13" height="6" fill="#0b0b0b"/>
<ellipse cx="1454.5" cy="142.8" rx="15" ry="3" fill="#2a2a2a"/>
<polygon points="1402,148.3 1417.4,143.6 1482.8,149 1464.3,155.5" fill="#3a3a3a"/>
<polygon points="1402,148.3 1464.3,155.5 1464.3,156.5 1402,149.5" fill="#1a1a1a"/>
</g><g><polygon points="1116.4,249.5 1191.4,242.5 1275.4,255.3 1226.7,270.3" fill="#959595"/><polygon points="1116.4,249.5 1226.7,270.3 1226.7,298.2 1116.4,276.8" fill="#5c5c5c"/><polygon points="1226.7,270.3 1275.4,255.3 1275.4,280 1226.7,298.2" fill="#575555"/><polygon points="1250,267 1264,262.5 1264,277 1250,282" fill="#3e3c3c"/><line x1="1124" y1="253.59375" x2="1220" y2="273.5625" stroke="#858585" stroke-width="1.2"/><line x1="1124" y1="256.78125" x2="1220" y2="276.6875" stroke="#858585" stroke-width="1.2"/><line x1="1124" y1="259.96875" x2="1220" y2="279.8125" stroke="#858585" stroke-width="1.2"/><line x1="1124" y1="263.15625" x2="1220" y2="282.9375" stroke="#858585" stroke-width="1.2"/><line x1="1124" y1="266.34375" x2="1220" y2="286.0625" stroke="#858585" stroke-width="1.2"/><line x1="1124" y1="269.53125" x2="1220" y2="289.1875" stroke="#858585" stroke-width="1.2"/><line x1="1124" y1="272.71875" x2="1220" y2="292.3125" stroke="#858585" stroke-width="1.2"/><line x1="1124" y1="275.90625" x2="1220" y2="295.4375" stroke="#858585" stroke-width="1.2"/><line x1="1147.5" y1="257.36473254759744" x2="1147.5" y2="281.36473254759744" stroke="#aaa" stroke-width="0.6"/><line x1="1171.6" y1="261.90942883046233" x2="1171.6" y2="285.90942883046233" stroke="#aaa" stroke-width="0.6"/><line x1="1195.6" y1="266.4352674524025" x2="1195.6" y2="290.4352674524025" stroke="#aaa" stroke-width="0.6"/><polygon points="1122,251 1133,253 1133,256.5 1122,254.5" fill="#5a8ae0"/><rect x="1115" y="257" width="3" height="18" fill="#3a3a3a"/><rect x="1222" y="276" width="3" height="20" fill="#3a3a3a"/></g><g stroke="#111" stroke-width="1.6" fill="none">
<line x1="160.5" y1="643" x2="160.5" y2="720"/>
<line x1="115" y1="682" x2="199" y2="682"/>
<line x1="220" y1="640" x2="220" y2="727"/>
<polyline points="72,677 97,677"/>
<polyline points="72,695.5 97,695.5"/>
<polyline points="349,706 325,706 325,740"/>
<polyline points="422,706 445,706 445,742"/>
<line x1="385.5" y1="667" x2="385.5" y2="686"/>
</g><line x1="335" y1="632" x2="360" y2="632" stroke="#555" stroke-width="1.6"/><line x1="388" y1="630" x2="407" y2="630" stroke="#111" stroke-width="1.6"/><g>
<rect x="137" y="605.7" width="40.6" height="38" fill="#fff"/>
<path d="M149,609 L170,611 Q177,613 176.5,623 Q176,633 170,635 L149,635.5 Z" fill="#cfd0d2"/>
<circle cx="149" cy="621.5" r="11" fill="#dcdddf"/>
<circle cx="149" cy="621.5" r="9.2" fill="#f4f4f4" stroke="#555" stroke-width="1.4"/>
<path d="M153,615 Q156,620 152,625" fill="none" stroke="#ddd" stroke-width="1"/>
<rect x="153.5" y="635" width="14" height="7.5" fill="#d5d6d8"/>
<rect x="151" y="641" width="19" height="2.5" fill="#bbb"/>
</g><g>
<rect x="197.2" y="614" width="51.4" height="29.7" fill="#fff"/>
<polygon points="197.2,626 229.6,614.6 248.6,625.3 216.3,636.8" fill="#3883c6"/>
<polygon points="197.2,626 216.3,636.8 216.3,643 197.2,632.3" fill="#184c8c"/>
<polygon points="216.3,636.8 248.6,625.3 248.6,631.5 216.3,643" fill="#2363a6"/>
</g><rect x="55" y="675" width="25" height="6" fill="#e4ecf6" stroke="#999" stroke-width="0.8"/><rect x="55" y="689.5" width="25" height="7" fill="#e4ecf6" stroke="#999" stroke-width="0.8"/><g>
<rect x="92" y="659" width="31" height="45" fill="#f7f2f2"/>
<polygon points="96,665 112,660 119,663 103,668" fill="#3a3a3a"/>
<polygon points="96,665 103,668 103,704 96,700" fill="#151515"/>
<polygon points="103,668 119,663 119,698 103,704" fill="#222"/>
<polygon points="107,676 112,674.5 112,690 107,692" fill="#d8406a"/>
<line x1="104" y1="670" x2="104" y2="702" stroke="#c33" stroke-width="0.6"/>
</g><g transform="translate(130.7,674.1) scale(0.9844444444444443,1.036)">
<rect x="0" y="0" width="45" height="25" fill="#fff"/>
<polygon points="16,3 43,1.5 43,16 16,19" fill="#c6c6c6"/>
<polygon points="8,5 14,2 43,1.5 18,3.5" fill="#e6e6e6"/>
<polygon points="8,5 18,3.5 18,19 8,21" fill="#8c8c8c"/>
<polygon points="1,14 10,10.5 12,21 3,24.5" fill="#7b7b7b"/>
<ellipse cx="4.5" cy="19" rx="4.3" ry="5.3" fill="#9b9b9b" stroke="#5e5e5e" stroke-width="0.9"/>
<ellipse cx="4" cy="19.5" rx="1.8" ry="2.5" fill="#b5b5b5"/>
<rect x="36" y="2" width="6" height="1.6" fill="#c83a3a"/>
<path d="M22,9 Q26,8 25.5,13 Q25,19 14,22" fill="none" stroke="#666" stroke-width="0.7"/>
</g><g>
<rect x="197.9" y="667.2" width="40.5" height="29.1" fill="#fff"/>
<path d="M198.5,680 L198.5,686 A19.7,10 0 0 0 237.9,686 L237.9,680 Z" fill="#8a8c90"/>
<ellipse cx="218.2" cy="680" rx="19.7" ry="11" fill="#d9dadd"/>
<g stroke="#fff" stroke-width="2.2" fill="none">
<line x1="210" y1="675" x2="226" y2="685"/><line x1="226" y1="675" x2="210" y2="685"/>
</g>
<g fill="#fff"><polygon points="207,673 213,673.5 209,677"/><polygon points="229,673 223,673.5 227,677"/><polygon points="207,687 213,686.5 209,683"/><polygon points="229,687 223,686.5 227,683"/></g>
</g><g><rect x="146" y="719" width="29" height="32" fill="#fff"/><polygon points="147,726 151,720 170,720 174,726 172,745 167,750.5 154,750.5 149,745" fill="#2a2a2a"/><rect x="149" y="720" width="23" height="4" fill="#1a1a1a"/><circle cx="152.5" cy="729.0" r="1.3" fill="#aaa"/><circle cx="156.5" cy="729.0" r="1.3" fill="#aaa"/><circle cx="160.5" cy="729.0" r="1.3" fill="#aaa"/><circle cx="164.5" cy="729.0" r="1.3" fill="#aaa"/><circle cx="168.5" cy="729.0" r="1.3" fill="#aaa"/><circle cx="152.5" cy="733.6" r="1.3" fill="#aaa"/><circle cx="156.5" cy="733.6" r="1.3" fill="#aaa"/><circle cx="160.5" cy="733.6" r="1.3" fill="#aaa"/><circle cx="164.5" cy="733.6" r="1.3" fill="#aaa"/><circle cx="168.5" cy="733.6" r="1.3" fill="#aaa"/><circle cx="152.5" cy="738.2" r="1.3" fill="#aaa"/><circle cx="156.5" cy="738.2" r="1.3" fill="#aaa"/><circle cx="160.5" cy="738.2" r="1.3" fill="#aaa"/><circle cx="164.5" cy="738.2" r="1.3" fill="#aaa"/><circle cx="168.5" cy="738.2" r="1.3" fill="#aaa"/><circle cx="152.5" cy="742.8" r="1.3" fill="#aaa"/><circle cx="156.5" cy="742.8" r="1.3" fill="#aaa"/><circle cx="160.5" cy="742.8" r="1.3" fill="#aaa"/><circle cx="164.5" cy="742.8" r="1.3" fill="#aaa"/><circle cx="168.5" cy="742.8" r="1.3" fill="#aaa"/></g><g transform="translate(190,727) scale(1.0,0.96)">
<rect x="0" y="0" width="45" height="25" fill="#fff"/>
<polygon points="16,3 43,1.5 43,16 16,19" fill="#c6c6c6"/>
<polygon points="8,5 14,2 43,1.5 18,3.5" fill="#e6e6e6"/>
<polygon points="8,5 18,3.5 18,19 8,21" fill="#8c8c8c"/>
<polygon points="1,14 10,10.5 12,21 3,24.5" fill="#7b7b7b"/>
<ellipse cx="4.5" cy="19" rx="4.3" ry="5.3" fill="#9b9b9b" stroke="#5e5e5e" stroke-width="0.9"/>
<ellipse cx="4" cy="19.5" rx="1.8" ry="2.5" fill="#b5b5b5"/>
<rect x="36" y="2" width="6" height="1.6" fill="#c83a3a"/>
<path d="M22,9 Q26,8 25.5,13 Q25,19 14,22" fill="none" stroke="#666" stroke-width="0.7"/>
</g><g><rect x="295" y="603" width="50" height="52" fill="#f3f3f3"/><polygon points="310.20,607.20 342.70,607.20 327.40,652.30 295.60,652.30" fill="url(#gSolar)" /><line x1="307.28" y1="616.22" x2="339.64" y2="616.22" stroke="#f2f2f2" stroke-width="1.1"/><line x1="304.36" y1="625.24" x2="336.58" y2="625.24" stroke="#f2f2f2" stroke-width="1.1"/><line x1="301.44" y1="634.26" x2="333.52" y2="634.26" stroke="#f2f2f2" stroke-width="1.1"/><line x1="298.52" y1="643.28" x2="330.46" y2="643.28" stroke="#f2f2f2" stroke-width="1.1"/><line x1="318.32" y1="607.20" x2="303.55" y2="652.30" stroke="#f2f2f2" stroke-width="1.1"/><line x1="326.45" y1="607.20" x2="311.50" y2="652.30" stroke="#f2f2f2" stroke-width="1.1"/><line x1="334.57" y1="607.20" x2="319.45" y2="652.30" stroke="#f2f2f2" stroke-width="1.1"/></g><g><rect x="358" y="612.8" width="32" height="31.2" fill="#fafafa"/><polygon points="360,622 369,614.8 388,614.8 379,622" fill="#8e8e8e"/><polygon points="379,622 388,614.8 388,634.8 379,642" fill="#666"/><rect x="360" y="622" width="19" height="20" fill="#7a7a7a"/></g><rect x="363" y="625.5" width="11" height="5" fill="#fff"/><g><rect x="405" y="617.2" width="40" height="28.8" fill="#fafafa"/><polygon points="407,624 413,619.2 443,619.2 437,624" fill="#8e8e8e"/><polygon points="437,624 443,619.2 443,639.2 437,644" fill="#666"/><rect x="407" y="624" width="30" height="20" fill="#7a7a7a"/></g><g fill="#fff"><rect x="410" y="628" width="5" height="4"/><rect x="420" y="628" width="5" height="4"/><rect x="430" y="628" width="5" height="4"/><rect x="412" y="620.5" width="4" height="1.6"/><rect x="422" y="620.5" width="4" height="1.6"/><rect x="432" y="620.5" width="4" height="1.6"/></g><g>
<rect x="356" y="685" width="59" height="42" fill="#fff"/>
<polygon points="356,697 384.7,684.9 415,699.6 386.4,712.2" fill="#8f9193"/>
<polygon points="356,697 386.4,712.2 386.4,726.7 356,712" fill="#6f7173"/>
<polygon points="386.4,712.2 415,699.6 415,712 386.4,726.7" fill="#5f6163"/>
<g stroke="#555" stroke-width="0.6"><line x1="360" y1="705" x2="384" y2="717"/><line x1="360" y1="709" x2="384" y2="721"/></g>
</g><g transform="translate(299,739) scale(1.0,1.0)">
<rect x="0" y="0" width="45" height="25" fill="#fff"/>
<polygon points="16,3 43,1.5 43,16 16,19" fill="#c6c6c6"/>
<polygon points="8,5 14,2 43,1.5 18,3.5" fill="#e6e6e6"/>
<polygon points="8,5 18,3.5 18,19 8,21" fill="#8c8c8c"/>
<polygon points="1,14 10,10.5 12,21 3,24.5" fill="#7b7b7b"/>
<ellipse cx="4.5" cy="19" rx="4.3" ry="5.3" fill="#9b9b9b" stroke="#5e5e5e" stroke-width="0.9"/>
<ellipse cx="4" cy="19.5" rx="1.8" ry="2.5" fill="#b5b5b5"/>
<rect x="36" y="2" width="6" height="1.6" fill="#c83a3a"/>
<path d="M22,9 Q26,8 25.5,13 Q25,19 14,22" fill="none" stroke="#666" stroke-width="0.7"/>
</g><g transform="translate(420,741) scale(1.0,1.0)">
<rect x="0" y="0" width="45" height="25" fill="#fff"/>
<polygon points="16,3 43,1.5 43,16 16,19" fill="#c6c6c6"/>
<polygon points="8,5 14,2 43,1.5 18,3.5" fill="#e6e6e6"/>
<polygon points="8,5 18,3.5 18,19 8,21" fill="#8c8c8c"/>
<polygon points="1,14 10,10.5 12,21 3,24.5" fill="#7b7b7b"/>
<ellipse cx="4.5" cy="19" rx="4.3" ry="5.3" fill="#9b9b9b" stroke="#5e5e5e" stroke-width="0.9"/>
<ellipse cx="4" cy="19.5" rx="1.8" ry="2.5" fill="#b5b5b5"/>
<rect x="36" y="2" width="6" height="1.6" fill="#c83a3a"/>
<path d="M22,9 Q26,8 25.5,13 Q25,19 14,22" fill="none" stroke="#666" stroke-width="0.7"/>
</g><g stroke="#12a6e8" fill="none" stroke-linecap="round"><path d="M568.6,524.4 Q543.016,553.5 568.6,582.6 Q553.3839999999999,553.5 568.6,524.4 Z" fill="#12a6e8" stroke-width="1.6"/><path d="M697.8000000000001,524.4 Q723.3840000000001,553.5 697.8000000000001,582.6 Q713.0160000000002,553.5 697.8000000000001,524.4 Z" fill="#12a6e8" stroke-width="1.6"/><path d="M590.5,529 Q568.604,552.5 590.5,576 Q578.396,552.5 590.5,529 Z" fill="#12a6e8" stroke-width="1.6"/><path d="M675.9000000000001,529 Q697.796,552.5 675.9000000000001,576 Q688.0040000000001,552.5 675.9000000000001,529 Z" fill="#12a6e8" stroke-width="1.6"/><path d="M612,535 Q594.192,553.0 612,571 Q603.4079999999999,553.0 612,535 Z" fill="#12a6e8" stroke-width="1.6"/><path d="M654.4000000000001,535 Q672.2080000000001,553.0 654.4000000000001,571 Q662.9920000000002,553.0 654.4000000000001,535 Z" fill="#12a6e8" stroke-width="1.6"/></g><g fill="#12a6e8"><polygon points="632,528 634,528 635.5,541 630.5,541"/><rect x="624" y="540" width="17" height="28" rx="4"/><rect x="628.5" y="566" width="9.5" height="27"/><rect x="620" y="591" width="29" height="37"/></g><polygon points="628,617 632,605 637,605 640,617" fill="#fff" opacity="0.7"/><g stroke="#12a6e8" fill="none" stroke-width="2.2" stroke-linejoin="round"><polyline points="621.0,628 619.9,640.6 617.6,660 615.3,682 610.7,707 599.0,739 586.7,763 578.6,803" stroke-width="2.4"/><polyline points="647.0,628 649.7,640.6 652.0,660 656.5,682 662.0,707 674.9,739 687.5,763 700.0,803" stroke-width="2.4"/><polyline points="624.0,628 623.4,640.6 621.6,660 619.8,682 616.2,707 607.0,739 597.7,763 595.6,803" stroke-width="1.5"/><polyline points="644.5,628 646.7,640.6 648.6,660 652.7,682 657.3,707 668.1,739 678.1,763 685.5,803" stroke-width="1.5"/><line x1="619.9" y1="640.6" x2="649.7" y2="640.6" stroke-width="2.4"/><line x1="617.6" y1="660" x2="652.0" y2="660" stroke-width="2.4"/><line x1="615.3" y1="682" x2="656.5" y2="682" stroke-width="2.4"/><line x1="610.7" y1="707" x2="662.0" y2="707" stroke-width="2.4"/><line x1="599.0" y1="739" x2="674.9" y2="739" stroke-width="2.4"/><line x1="586.7" y1="763" x2="687.5" y2="763" stroke-width="2.4"/><line x1="623.0" y1="628" x2="647.7" y2="640.6" stroke-width="1.4"/><line x1="645.0" y1="628" x2="621.9" y2="640.6" stroke-width="1.4"/><line x1="621.9" y1="640.6" x2="650.0" y2="660" stroke-width="1.4"/><line x1="647.7" y1="640.6" x2="619.6" y2="660" stroke-width="1.4"/><line x1="619.6" y1="660" x2="654.5" y2="682" stroke-width="1.4"/><line x1="650.0" y1="660" x2="617.3" y2="682" stroke-width="1.4"/><line x1="617.3" y1="682" x2="660.0" y2="707" stroke-width="1.4"/><line x1="654.5" y1="682" x2="612.7" y2="707" stroke-width="1.4"/><line x1="612.7" y1="707" x2="672.9" y2="739" stroke-width="1.4"/><line x1="660.0" y1="707" x2="601.0" y2="739" stroke-width="1.4"/><line x1="601.0" y1="739" x2="685.5" y2="763" stroke-width="1.4"/><line x1="672.9" y1="739" x2="588.7" y2="763" stroke-width="1.4"/><line x1="634" y1="763" x2="609.6" y2="803" stroke-width="1.6"/><line x1="634" y1="763" x2="662" y2="803" stroke-width="1.6"/><rect x="631" y="736" width="6" height="7" fill="#12a6e8" stroke="none"/><rect x="631" y="759" width="6" height="7" fill="#12a6e8" stroke="none"/></g><polygon points="673,644 729,644 757,664.5 729,685 673,685" fill="#0a6fc0"/><g stroke="#333" stroke-width="1.6" fill="none">
<polyline points="799,628 799,708 892,708"/>
<polyline points="899,708 957,708"/>
<line x1="892" y1="697" x2="892" y2="708"/><line x1="899" y1="697" x2="899" y2="708"/>
<polyline points="885,608 910,608 910,660"/>
<line x1="1013" y1="709" x2="1053" y2="709"/>
<line x1="1067.5" y1="680" x2="1067.5" y2="694"/>
<polyline points="1068,661 1068,585.5 1087,585.5"/>
<line x1="1108" y1="585.5" x2="1133" y2="585.5"/>
<line x1="1078" y1="669" x2="1112" y2="669"/>
<line x1="1133" y1="669" x2="1157" y2="669"/>
<line x1="1175" y1="693" x2="1175" y2="708"/>
</g><g>
<rect x="765" y="577" width="66" height="64" fill="#f4f4f4"/>
<path d="M796,610 Q786,595 789,578 Q793,576 795,580 Q797,596 798,608 Z" fill="#fff" stroke="#555" stroke-width="0.9"/>
<path d="M797,608 Q815,610 829,617 Q831,621 826,621 Q812,619 796,613 Z" fill="#fff" stroke="#555" stroke-width="0.9"/>
<path d="M794,611 Q782,622 769,631 Q767,634 771,634 Q784,627 797,614 Z" fill="#fff" stroke="#555" stroke-width="0.9"/>
<path d="M795,612 L808,615 Q814,617 812,620 L803,623 L802,630 L796,630 Z" fill="#3a3a3a"/>
<circle cx="795" cy="610" r="3.2" fill="#fff" stroke="#222" stroke-width="1.5"/>
</g><g><rect x="844" y="576" width="51" height="57" fill="#f5f5f5"/><polygon points="852.00,583.00 893.00,583.00 885.00,628.00 845.00,628.00" fill="url(#gSolar)" /><line x1="850.60" y1="592.00" x2="891.40" y2="592.00" stroke="#f2f2f2" stroke-width="1.1"/><line x1="849.20" y1="601.00" x2="889.80" y2="601.00" stroke="#f2f2f2" stroke-width="1.1"/><line x1="847.80" y1="610.00" x2="888.20" y2="610.00" stroke="#f2f2f2" stroke-width="1.1"/><line x1="846.40" y1="619.00" x2="886.60" y2="619.00" stroke="#f2f2f2" stroke-width="1.1"/><line x1="862.25" y1="583.00" x2="855.00" y2="628.00" stroke="#f2f2f2" stroke-width="1.1"/><line x1="872.50" y1="583.00" x2="865.00" y2="628.00" stroke="#f2f2f2" stroke-width="1.1"/><line x1="882.75" y1="583.00" x2="875.00" y2="628.00" stroke="#f2f2f2" stroke-width="1.1"/></g><rect x="877" y="657" width="52" height="52" fill="#f5f5f5"/><g><polygon points="887,668 898,659.2 927,659.2 916,668" fill="#8e8e8e"/><polygon points="916,668 927,659.2 927,689.2 916,698" fill="#666"/><rect x="887" y="668" width="29" height="30" fill="#7a7a7a"/></g><rect x="890" y="672" width="16" height="7" fill="#fff"/><g><rect x="955" y="687.0" width="60" height="45.0" fill="#fafafa"/><polygon points="957,697 967,689.0 1013,689.0 1003,697" fill="#8e8e8e"/><polygon points="1003,697 1013,689.0 1013,722.0 1003,730" fill="#666"/><rect x="957" y="697" width="46" height="33" fill="#7a7a7a"/></g><g fill="#fff"><rect x="962" y="704" width="7.5" height="6"/><rect x="976" y="704" width="7.5" height="6"/><rect x="990" y="704" width="7.5" height="6"/><rect x="965" y="691" width="6" height="2.5"/><rect x="979" y="691" width="6" height="2.5"/><rect x="993" y="691" width="6" height="2.5"/></g><g><rect x="1051" y="692.4" width="32" height="31.6" fill="#fafafa"/><polygon points="1053,700 1060,694.4 1081,694.4 1074,700" fill="#8e8e8e"/><polygon points="1074,700 1081,694.4 1081,716.4 1074,722" fill="#666"/><rect x="1053" y="700" width="21" height="22" fill="#7a7a7a"/></g><rect x="1056" y="703" width="9" height="4" fill="#fff"/><g><rect x="1057" y="659.0" width="23" height="23.0" fill="#fafafa"/><polygon points="1059,665 1064,661.0 1078,661.0 1073,665" fill="#8e8e8e"/><polygon points="1073,665 1078,661.0 1078,676.0 1073,680" fill="#666"/><rect x="1059" y="665" width="14" height="15" fill="#7a7a7a"/></g><g><polygon points="1086,583.72 1097.0,577 1108,582.76 1097.0,589.0" fill="#565960"/><polygon points="1086,583.72 1097.0,589.0 1097.0,593 1086,587.56" fill="#2c2e33"/><polygon points="1097.0,589.0 1108,582.76 1108,586.6 1097.0,593" fill="#393b40"/></g><g><polygon points="1111,667.14 1122.0,660 1133,666.12 1122.0,672.75" fill="#565960"/><polygon points="1111,667.14 1122.0,672.75 1122.0,677 1111,671.22" fill="#2c2e33"/><polygon points="1122.0,672.75 1133,666.12 1133,670.2 1122.0,677" fill="#393b40"/></g><g>
<polygon points="1155,575.5 1160,573.5 1185,574.5 1185.5,591 1182,593.5 1157,593.5" fill="#f2f2f4" stroke="#d0d0d0" stroke-width="0.5"/>
<polygon points="1144,576 1155,574.5 1160,576 1161,594 1146,594.5" fill="#1b1b1d"/>
<polygon points="1133,580.5 1147,579.5 1147.5,593.5 1133,594" fill="#1e1e20"/>
<ellipse cx="1133.5" cy="587.2" rx="2.6" ry="6.6" fill="#2c2c2e" stroke="#4a4a4a" stroke-width="0.6"/>
<ellipse cx="1133.5" cy="587.2" rx="1.2" ry="3.2" fill="#3a2a2a"/>
<path d="M1160,590 Q1165,583 1170,584.5" fill="none" stroke="#222" stroke-width="1.6"/>
<rect x="1177" y="577" width="5" height="1" fill="#bbb"/>
</g><g>
<polygon points="1150.3,652.5 1178,648.6 1201.5,651 1192,662 1152.8,663" fill="#e2e2e2" stroke="#a8a8a8" stroke-width="0.6"/>
<polygon points="1178,648.6 1201.5,651 1195,657 1181,653.5" fill="#c4c4c4"/>
<circle cx="1180" cy="657.2" r="4.3" fill="#151515"/>
<circle cx="1188.5" cy="657.5" r="3" fill="#222"/>
<circle cx="1188.5" cy="657.5" r="1.2" fill="#555"/>
<rect x="1157" y="664.5" width="31" height="21.5" rx="2" fill="#dedede" stroke="#b4b4b4" stroke-width="0.6"/>
<rect x="1180" y="664.5" width="8" height="21.5" fill="#c8c8c8"/>
<circle cx="1160.4" cy="671.5" r="4" fill="#ececec" stroke="#aaa" stroke-width="0.6"/>
<rect x="1163" y="662" width="20" height="3" fill="#cfcfcf"/>
<polygon points="1161.3,686.6 1183.2,686.6 1185,693.3 1160,693.3" fill="#d4d4d4" stroke="#a8a8a8" stroke-width="0.6"/>
</g><g>
<ellipse cx="1174" cy="713.5" rx="14" ry="2.6" fill="#b8c0b8"/>
<ellipse cx="1174" cy="710" rx="14" ry="3.6" fill="#e4ece4" stroke="#b0b0b0" stroke-width="0.5"/>
<rect x="1164" y="714" width="20" height="14" fill="#e6e8e6"/>
<rect x="1166.5" y="716" width="6" height="6" fill="#666"/><rect x="1176" y="716" width="6" height="6" fill="#777"/>
<ellipse cx="1174" cy="728.5" rx="10.5" ry="2.6" fill="#d4d8d4" stroke="#aaa" stroke-width="0.5"/>
<rect x="1166" y="730" width="16" height="13" fill="#c6cac6"/>
<g stroke="#9a9e9a" stroke-width="0.7"><line x1="1166" y1="733" x2="1182" y2="733"/><line x1="1166" y1="736" x2="1182" y2="736"/><line x1="1166" y1="739" x2="1182" y2="739"/><line x1="1166" y1="742" x2="1182" y2="742"/></g>
<ellipse cx="1174" cy="744" rx="8" ry="2" fill="#b8bcb8"/>
</g><g>
<line x1="1200" y1="628" x2="1470" y2="628" stroke="#b8b8b8" stroke-width="0.8"/>
<polygon points="1246,602.3 1275,601.5 1305,603 1275,604" fill="#4a4a4a"/>
<polygon points="1365,603 1395,601.5 1428,605.6 1395,604.2" fill="#4a4a4a"/>
<polygon points="1212,627.5 1240,626.5 1262,627.5 1240,629" fill="#5a5a5a"/>
<polygon points="1410,627.5 1432,626.5 1462,627.5 1432,629" fill="#5a5a5a"/>
<g stroke="#2a2a2a" stroke-linecap="round" fill="none">
<line x1="1279" y1="605" x2="1313" y2="613" stroke-width="4.2"/>
<line x1="1393" y1="605" x2="1359" y2="613" stroke-width="4.2"/>
<line x1="1266" y1="629" x2="1318" y2="626" stroke-width="5.6"/>
<line x1="1410" y1="629" x2="1354" y2="626" stroke-width="5.6"/>
<line x1="1302.5" y1="613" x2="1302.5" y2="624" stroke-width="1.2"/>
<line x1="1369.5" y1="613" x2="1369.5" y2="624" stroke-width="1.2"/>
<line x1="1294" y1="633" x2="1294" y2="654" stroke-width="1.4"/>
<line x1="1380" y1="633" x2="1380" y2="655" stroke-width="1.4"/>
<path d="M1318,638 Q1302,660 1300,690 L1296,721" stroke-width="2"/>
<path d="M1354,638 Q1370,660 1372,690 L1376,721" stroke-width="2"/>
<line x1="1300" y1="697" x2="1295.5" y2="720" stroke-width="4.2"/>
<line x1="1372" y1="697" x2="1376.5" y2="720" stroke-width="4.2"/>
<line x1="1336" y1="590" x2="1336" y2="604" stroke-width="2"/>
<line x1="1333" y1="589.5" x2="1339" y2="589.5" stroke-width="2.6"/>
</g>
<ellipse cx="1282.5" cy="603.8" rx="4" ry="2.6" fill="#222"/>
<ellipse cx="1389.5" cy="604" rx="4" ry="2.6" fill="#222"/>
<path d="M1252,630 L1267,630 L1267,639 Q1259.5,642 1252,639 Z" fill="#9c9c9c"/>
<path d="M1405,630 L1420,630 L1420,640 Q1412.5,643 1405,640 Z" fill="#9c9c9c"/>
<ellipse cx="1259.5" cy="628.5" rx="6" ry="2.6" fill="#222"/>
<ellipse cx="1412.5" cy="628.5" rx="6" ry="2.6" fill="#222"/>
<path d="M1311,621 Q1311,602.5 1336,602 Q1361,602.5 1361,621 L1359,631 L1313,631 Z" fill="#2b2b2d"/>
<path d="M1318,610 Q1336,603.5 1354,610" fill="none" stroke="#6a6a6a" stroke-width="1"/>
<path d="M1316,630 L1356,630 L1353,645 L1319,645 Z" fill="#1e1e1f"/>
<ellipse cx="1336" cy="645.5" rx="17" ry="2.2" fill="#333"/>
<rect x="1334" y="647" width="4" height="12" fill="#1a1a1a"/>
<rect x="1324" y="659" width="22" height="26" rx="4" fill="#1b1b1c"/>
<rect x="1339" y="662" width="11" height="12" fill="#222"/>
<ellipse cx="1333" cy="675" rx="7" ry="8" fill="#1c3a5a"/>
</g><g>
<polygon points="1514.7,565.1 1554.2,556.4 1556.3,601.5 1514.7,591.3" fill="#b8121a"/>
<polygon points="1514.7,565.1 1520,564 1520,590 1514.7,589" fill="#7a0a10"/>
<g stroke="#8a0a10" stroke-width="0.8"><line x1="1520.4" y1="564" x2="1520.4" y2="592.5"/><line x1="1529.6" y1="562" x2="1529.6" y2="595"/><line x1="1540.4" y1="559.5" x2="1540.4" y2="598"/><line x1="1553.2" y1="557" x2="1553.2" y2="601"/></g>
<polygon points="1514.7,583 1554.5,590 1554.7,593 1514.7,586" fill="#e8d8d8"/>
<polygon points="1515,570 1554,561 1554,563.5 1515,572.5" fill="#c85040" opacity="0.7"/>
<polygon points="1514.7,562 1553.2,548.2 1575.7,548.7 1594.2,553.8 1595.2,558.4 1554.2,556.9 1515.3,565.6" fill="#e6e6e8"/>
<polygon points="1514.7,562 1553.2,548.2 1554,551 1515,564.5" fill="#f8f8f8"/>
<polygon points="1556.3,557.9 1575.7,558.5 1603.4,561.5 1610.6,573.8 1628,579 1631.6,593.3 1631.6,596 1589,598 1570.6,606.6 1556.3,603.5" fill="#d2141c"/>
<polygon points="1575.7,560 1603.4,562 1609.5,573.8 1576.7,573.3" fill="#56626e"/>
<polygon points="1595,563 1601,563.5 1603,568 1596,568" fill="#e8eef4"/>
<polygon points="1564.5,560 1574.7,559.5 1574.7,573.8 1564.5,573.8" fill="#2e2e30"/>
<rect x="1560.3" y="560.5" width="3.5" height="12" fill="#c8ccd0"/>
<polygon points="1560,586 1576,588 1576,590.5 1560,589" fill="#eee"/>
<circle cx="1568" cy="583" r="2.6" fill="#e8e8f4" stroke="#4a4a8a" stroke-width="0.7"/>
<polygon points="1606.5,580 1627.5,581 1628,593.3 1611.6,593.3" fill="#c4c6ca"/>
<g stroke="#555" stroke-width="0.6"><line x1="1614" y1="582" x2="1616" y2="592"/><line x1="1619" y1="582" x2="1620" y2="592"/><line x1="1624" y1="582" x2="1624.5" y2="592"/></g>
<circle cx="1615" cy="585" r="1" fill="#e22"/><circle cx="1627" cy="585.5" r="1" fill="#e22"/>
<polygon points="1592.1,589.2 1611.6,591.2 1611.1,594.3 1593.2,592.3" fill="#f4f4f4"/>
<polygon points="1589,597.4 1631.6,595.4 1631.6,601.5 1590,605.6" fill="#d4d6da"/>
<rect x="1608" y="599" width="14" height="2" fill="#333"/>
<polygon points="1556.3,593.3 1570.6,593.3 1570.6,606.6 1557.3,605.6" fill="#c6c8cc"/>
<path d="M1571,606 Q1571,590 1582,589 Q1593,590 1593,606 Z" fill="#5a0a0e"/>
<ellipse cx="1618" cy="606" rx="8" ry="4.5" fill="#1a1a1a"/>
<ellipse cx="1525.5" cy="594.3" rx="5.5" ry="7" fill="#1a1a1a"/>
<ellipse cx="1525.5" cy="594.3" rx="2.2" ry="3" fill="#999"/>
<circle cx="1581.4" cy="606" r="11" fill="#1a1a1a"/>
<circle cx="1581.4" cy="606" r="5.2" fill="#c8ccd0"/>
<circle cx="1581.4" cy="606" r="2" fill="#888"/>
<g fill="#ff6a20"><rect x="1569" y="555" width="3" height="2"/><rect x="1585" y="556" width="3" height="2"/><rect x="1594" y="558" width="3" height="2"/></g>
</g><g>
<rect x="1550" y="681" width="45" height="92" fill="#fff"/>
<rect x="1551.5" y="682" width="42" height="90" rx="4" fill="#262626"/>
<rect x="1566" y="683" width="14" height="4" rx="1.5" fill="#1a1a1a"/>
<rect x="1565" y="690" width="16" height="1.5" fill="#666"/>
<rect x="1557" y="694" width="31" height="63" rx="1" fill="#0e0e0e"/>
<rect x="1558.5" y="698.5" width="28" height="51" fill="#9a9a9a"/>
<rect x="1558.5" y="698.5" width="28" height="14" fill="#7a7a7a"/>
<text x="1565" y="708" font-family="Liberation Sans" font-size="5.5" fill="#eee">17:30</text>
<polygon points="1570,698.5 1578,698.5 1566,749.5 1558.5,749.5" fill="#fff" opacity="0.12"/>
<circle cx="1562" cy="731" r="2.2" fill="#eee"/><circle cx="1573" cy="731" r="2.2" fill="#e8d040"/><circle cx="1583" cy="731" r="2.2" fill="#7a6ab8"/>
<circle cx="1562" cy="741" r="2.2" fill="#7a8ac8"/><circle cx="1573" cy="741" r="2.4" fill="#fff"/><circle cx="1573" cy="741" r="1.2" fill="#d22"/><rect x="1580.5" y="738.5" width="5" height="5" fill="#f0d030"/>
<rect x="1563" y="760" width="6" height="3" fill="#555"/><rect x="1569" y="760" width="9" height="3" fill="#666"/><rect x="1578" y="760" width="6" height="3" fill="#555"/>
</g><rect x="247.5" y="431.2" width="1.6" height="1.6" fill="#fff"/><rect x="257.7" y="428.2" width="1.6" height="1.6" fill="#fff"/><rect x="265.2" y="447.7" width="1.6" height="1.6" fill="#fff"/><rect x="249.0" y="453.9" width="1.6" height="1.6" fill="#fff"/><rect x="281.2" y="436.2" width="1.6" height="1.6" fill="#fff"/><rect x="291.9" y="450.2" width="1.6" height="1.6" fill="#fff"/><rect x="291.0" y="463.2" width="1.6" height="1.6" fill="#fff"/><rect x="298.2" y="468.9" width="1.6" height="1.6" fill="#fff"/><rect x="295.8" y="472.2" width="1.6" height="1.6" fill="#fff"/><rect x="306.4" y="470.8" width="1.6" height="1.6" fill="#fff"/><rect x="313.7" y="467.2" width="1.6" height="1.6" fill="#fff"/><rect x="319.2" y="442.8" width="1.6" height="1.6" fill="#fff"/><rect x="319.2" y="474.2" width="1.6" height="1.6" fill="#fff"/><rect x="303.0" y="479.0" width="1.6" height="1.6" fill="#fff"/><rect x="262.5" y="480.0" width="1.6" height="1.6" fill="#fff"/><rect x="284.2" y="469.9" width="1.6" height="1.6" fill="#fff"/><rect x="309.8" y="453.5" width="1.6" height="1.6" fill="#fff"/><rect x="301.6" y="447.7" width="1.6" height="1.6" fill="#fff"/><rect x="237.4" y="433.7" width="1.6" height="1.6" fill="#e020e0"/><rect x="237.4" y="438.5" width="1.6" height="1.6" fill="#e020e0"/><rect x="237.4" y="471.8" width="1.6" height="1.6" fill="#e020e0"/><rect x="294.2" y="440.2" width="1.6" height="1.6" fill="#e020e0"/><rect x="306.4" y="442.2" width="1.6" height="1.6" fill="#e020e0"/><rect x="289.5" y="439.2" width="1.6" height="1.6" fill="#20e020"/><rect x="283.2" y="437.1" width="1.6" height="1.6" fill="#20e020"/><rect x="285.2" y="440.0" width="1.6" height="1.6" fill="#f0e000"/><rect x="285.7" y="447.7" width="1.6" height="1.6" fill="#f0e000"/><rect x="306.4" y="447.2" width="1.6" height="1.6" fill="#2020f0"/><rect x="265.2" y="470.8" width="1.6" height="1.6" fill="#2020f0"/><rect x="246.1" y="477.6" width="1.6" height="1.6" fill="#20e0e0"/><rect x="900.5" y="431.2" width="1.6" height="1.6" fill="#fff"/><rect x="910.7" y="428.2" width="1.6" height="1.6" fill="#fff"/><rect x="918.2" y="447.7" width="1.6" height="1.6" fill="#fff"/><rect x="902.0" y="453.9" width="1.6" height="1.6" fill="#fff"/><rect x="934.2" y="436.2" width="1.6" height="1.6" fill="#fff"/><rect x="944.9" y="450.2" width="1.6" height="1.6" fill="#fff"/><rect x="944.0" y="463.2" width="1.6" height="1.6" fill="#fff"/><rect x="951.2" y="468.9" width="1.6" height="1.6" fill="#fff"/><rect x="948.8" y="472.2" width="1.6" height="1.6" fill="#fff"/><rect x="959.4" y="470.8" width="1.6" height="1.6" fill="#fff"/><rect x="966.7" y="467.2" width="1.6" height="1.6" fill="#fff"/><rect x="972.2" y="442.8" width="1.6" height="1.6" fill="#fff"/><rect x="972.2" y="474.2" width="1.6" height="1.6" fill="#fff"/><rect x="956.0" y="479.0" width="1.6" height="1.6" fill="#fff"/><rect x="915.5" y="480.0" width="1.6" height="1.6" fill="#fff"/><rect x="937.2" y="469.9" width="1.6" height="1.6" fill="#fff"/><rect x="962.8" y="453.5" width="1.6" height="1.6" fill="#fff"/><rect x="954.6" y="447.7" width="1.6" height="1.6" fill="#fff"/><rect x="890.4" y="433.7" width="1.6" height="1.6" fill="#e020e0"/><rect x="890.4" y="438.5" width="1.6" height="1.6" fill="#e020e0"/><rect x="890.4" y="471.8" width="1.6" height="1.6" fill="#e020e0"/><rect x="947.2" y="440.2" width="1.6" height="1.6" fill="#e020e0"/><rect x="959.4" y="442.2" width="1.6" height="1.6" fill="#e020e0"/><rect x="942.5" y="439.2" width="1.6" height="1.6" fill="#20e020"/><rect x="936.2" y="437.1" width="1.6" height="1.6" fill="#20e020"/><rect x="938.2" y="440.0" width="1.6" height="1.6" fill="#f0e000"/><rect x="938.7" y="447.7" width="1.6" height="1.6" fill="#f0e000"/><rect x="959.4" y="447.2" width="1.6" height="1.6" fill="#2020f0"/><rect x="918.2" y="470.8" width="1.6" height="1.6" fill="#2020f0"/><rect x="899.1" y="477.6" width="1.6" height="1.6" fill="#20e0e0"/><rect x="1405.5" y="431.8" width="1.6" height="1.6" fill="#fff"/><rect x="1415.7" y="428.8" width="1.6" height="1.6" fill="#fff"/><rect x="1423.2" y="448.3" width="1.6" height="1.6" fill="#fff"/><rect x="1407.0" y="454.5" width="1.6" height="1.6" fill="#fff"/><rect x="1439.2" y="436.8" width="1.6" height="1.6" fill="#fff"/><rect x="1449.9" y="450.8" width="1.6" height="1.6" fill="#fff"/><rect x="1449.0" y="463.8" width="1.6" height="1.6" fill="#fff"/><rect x="1456.2" y="469.5" width="1.6" height="1.6" fill="#fff"/><rect x="1453.8" y="472.8" width="1.6" height="1.6" fill="#fff"/><rect x="1464.4" y="471.4" width="1.6" height="1.6" fill="#fff"/><rect x="1471.7" y="467.8" width="1.6" height="1.6" fill="#fff"/><rect x="1477.2" y="443.4" width="1.6" height="1.6" fill="#fff"/><rect x="1477.2" y="474.8" width="1.6" height="1.6" fill="#fff"/><rect x="1461.0" y="479.6" width="1.6" height="1.6" fill="#fff"/><rect x="1420.5" y="480.6" width="1.6" height="1.6" fill="#fff"/><rect x="1442.2" y="470.5" width="1.6" height="1.6" fill="#fff"/><rect x="1467.8" y="454.1" width="1.6" height="1.6" fill="#fff"/><rect x="1459.6" y="448.3" width="1.6" height="1.6" fill="#fff"/><rect x="1395.4" y="434.3" width="1.6" height="1.6" fill="#e020e0"/><rect x="1395.4" y="439.1" width="1.6" height="1.6" fill="#e020e0"/><rect x="1395.4" y="472.4" width="1.6" height="1.6" fill="#e020e0"/><rect x="1452.2" y="440.8" width="1.6" height="1.6" fill="#e020e0"/><rect x="1464.4" y="442.8" width="1.6" height="1.6" fill="#e020e0"/><rect x="1447.5" y="439.8" width="1.6" height="1.6" fill="#20e020"/><rect x="1441.2" y="437.7" width="1.6" height="1.6" fill="#20e020"/><rect x="1443.2" y="440.6" width="1.6" height="1.6" fill="#f0e000"/><rect x="1443.7" y="448.3" width="1.6" height="1.6" fill="#f0e000"/><rect x="1464.4" y="447.8" width="1.6" height="1.6" fill="#2020f0"/><rect x="1423.2" y="471.4" width="1.6" height="1.6" fill="#2020f0"/><rect x="1404.1" y="478.2" width="1.6" height="1.6" fill="#20e0e0"/><rect x="1616.3" y="431.1" width="1.6" height="1.6" fill="#fff"/><rect x="1606.1" y="428.1" width="1.6" height="1.6" fill="#fff"/><rect x="1598.6" y="447.6" width="1.6" height="1.6" fill="#fff"/><rect x="1614.8" y="453.8" width="1.6" height="1.6" fill="#fff"/><rect x="1582.6" y="436.1" width="1.6" height="1.6" fill="#fff"/><rect x="1571.9" y="450.1" width="1.6" height="1.6" fill="#fff"/><rect x="1572.8" y="463.1" width="1.6" height="1.6" fill="#fff"/><rect x="1565.6" y="468.8" width="1.6" height="1.6" fill="#fff"/><rect x="1568.0" y="472.1" width="1.6" height="1.6" fill="#fff"/><rect x="1557.4" y="470.7" width="1.6" height="1.6" fill="#fff"/><rect x="1550.1" y="467.1" width="1.6" height="1.6" fill="#fff"/><rect x="1544.6" y="442.7" width="1.6" height="1.6" fill="#fff"/><rect x="1544.6" y="474.1" width="1.6" height="1.6" fill="#fff"/><rect x="1560.8" y="478.9" width="1.6" height="1.6" fill="#fff"/><rect x="1601.3" y="479.9" width="1.6" height="1.6" fill="#fff"/><rect x="1579.6" y="469.8" width="1.6" height="1.6" fill="#fff"/><rect x="1554.0" y="453.4" width="1.6" height="1.6" fill="#fff"/><rect x="1562.2" y="447.6" width="1.6" height="1.6" fill="#fff"/><rect x="1626.4" y="433.6" width="1.6" height="1.6" fill="#e020e0"/><rect x="1626.4" y="438.4" width="1.6" height="1.6" fill="#e020e0"/><rect x="1626.4" y="471.7" width="1.6" height="1.6" fill="#e020e0"/><rect x="1569.6" y="440.1" width="1.6" height="1.6" fill="#e020e0"/><rect x="1557.4" y="442.1" width="1.6" height="1.6" fill="#e020e0"/><rect x="1574.3" y="439.1" width="1.6" height="1.6" fill="#20e020"/><rect x="1580.6" y="437.0" width="1.6" height="1.6" fill="#20e020"/><rect x="1578.6" y="439.9" width="1.6" height="1.6" fill="#f0e000"/><rect x="1578.1" y="447.6" width="1.6" height="1.6" fill="#f0e000"/><rect x="1557.4" y="447.1" width="1.6" height="1.6" fill="#2020f0"/><rect x="1598.6" y="470.7" width="1.6" height="1.6" fill="#2020f0"/><rect x="1617.7" y="477.5" width="1.6" height="1.6" fill="#20e0e0"/><g fill="#1aaae6"><polygon points="248,486 281,443 287,457 314,429 283,473 276,459"/><polygon points="903,481 934,443 940,457 967,429 937,471 930,458"/><polygon points="1407,484.3 1440,442.6 1445.4,457 1472,429.6 1440,472.7 1434.5,458.3"/><polygon points="1551.4,428.9 1587.7,448 1587.7,450.8 1570.6,455.6 1604,483.6 1550,449.4 1569.2,444"/></g><g stroke="#333" stroke-width="1.6" fill="none">
<polyline points="799,630 799,708 892,708"/>
<polyline points="899,708 957,708"/>
<line x1="892" y1="697" x2="892" y2="708"/><line x1="899" y1="697" x2="899" y2="708"/>
<polyline points="885,608 910,608 910,660"/>
</g>
</svg>
<div class="t" style="left:786.5px;top:22.5px;font-size:32px;color:#0070c0;font-weight:bold;-webkit-text-stroke:0.9px #0070c0">森林防火指挥中心</div><div class="t" style="left:324.5px;top:47.5px;font-size:14px;color:#000;font-weight:bold;-webkit-text-stroke:0.1px #000">大屏显示系统</div><div class="t" style="left:116.0px;top:126.5px;font-size:14px;color:#000;font-weight:bold;-webkit-text-stroke:0.1px #000">控制键盘</div><div class="t" style="left:344.5px;top:148.0px;font-size:14px;color:#000;font-weight:bold;-webkit-text-stroke:0.1px #000">大屏</div><div class="t" style="left:219.5px;top:175.0px;font-size:14px;color:#000;font-weight:bold;-webkit-text-stroke:0.1px #000">视综平台</div><div class="t" style="left:551.0px;top:93.0px;font-size:14px;color:#000;font-weight:bold;-webkit-text-stroke:0.1px #000">森林防火综合管理系统</div><div class="t" style="left:867.5px;top:88.0px;font-size:14px;color:#000;font-weight:bold;-webkit-text-stroke:0.1px #000">辅助决策系统</div><div class="t" style="left:1162.5px;top:108.5px;font-size:14px;color:#000;font-weight:bold;-webkit-text-stroke:0.1px #000">视频质量诊断服务器</div><div class="t" style="left:1441.0px;top:82.5px;font-size:14px;color:#000;font-weight:bold;-webkit-text-stroke:0.1px #000">领导座席</div><div class="t" style="left:547.5px;top:241.5px;font-size:14px;color:#000;font-weight:bold;-webkit-text-stroke:0.1px #000">应急指挥调度系统</div><div class="t" style="left:825.5px;top:239.0px;font-size:14px;color:#000;font-weight:bold;-webkit-text-stroke:0.1px #000">智能运维服务器</div><div class="t" style="left:1052.5px;top:263.0px;font-size:14px;color:#000;font-weight:bold;-webkit-text-stroke:0.1px #000">磁盘阵列</div><div class="t" style="left:1379.0px;top:263.5px;font-size:14px;color:#000;font-weight:bold;-webkit-text-stroke:0.1px #000">操作终端</div><div class="t" style="left:280.0px;top:382.0px;font-size:16px;color:#1a1a1a;font-weight:bold;-webkit-text-stroke:0.25px #1a1a1a">光纤专网</div><div class="t" style="left:282.5px;top:400.0px;font-size:16px;color:#1a1a1a;font-weight:bold;-webkit-text-stroke:0.25px #1a1a1a"><span style="font-size:1.15em">/3G/4G</span></div><div class="t" style="left:860.0px;top:385.0px;font-size:16px;color:#1a1a1a;font-weight:bold;-webkit-text-stroke:0.25px #1a1a1a">光纤专网/无线网桥</div><div class="t" style="left:1453.0px;top:388.5px;font-size:16px;color:#1a1a1a;font-weight:bold;-webkit-text-stroke:0.25px #1a1a1a">无线网络<span style="font-size:1.15em">/3G/4G</span></div><div class="t" style="left:89.5px;top:522.5px;font-size:21px;color:#0b6dc2;font-weight:bold;-webkit-text-stroke:0.6px #0b6dc2">辅助卡口系统</div><div class="t" style="left:249.0px;top:520.0px;font-size:21px;color:#0b6dc2;font-weight:bold;-webkit-text-stroke:0.6px #0b6dc2">林场核心出入防火宣传系统</div><div class="t" style="left:108.0px;top:616.5px;font-size:9px;color:#333;font-weight:normal">闪光灯</div><div class="t" style="left:206.5px;top:600.0px;font-size:9px;color:#333;font-weight:normal">卡口主机</div><div class="t" style="left:50.0px;top:656.5px;font-size:9px;color:#333;font-weight:normal">地感线圈</div><div class="t" style="left:132.5px;top:664.0px;font-size:9px;color:#333;font-weight:normal">高清抓拍单元</div><div class="t" style="left:85.5px;top:708.0px;font-size:9px;color:#333;font-weight:normal">车辆检测器</div><div class="t" style="left:147.0px;top:758.0px;font-size:9px;color:#333;font-weight:normal">频闪灯</div><div class="t" style="left:185.0px;top:758.0px;font-size:9px;color:#333;font-weight:normal">高清全景监控单元</div><div class="t" style="left:111.5px;top:780.5px;font-size:14px;color:#000;font-weight:bold;-webkit-text-stroke:0.1px #000">林场公路重要出入路段</div><div class="t" style="left:364.5px;top:606.5px;font-size:9px;color:#333;font-weight:normal">控制器</div><div class="t" style="left:445.5px;top:622.0px;font-size:9px;color:#333;font-weight:normal">蓄电池</div><div class="t" style="left:346.0px;top:650.0px;font-size:10.5px;color:#000;font-weight:bold;-webkit-text-stroke:0.1px #000">太阳能供电系统</div><div class="t" style="left:414.0px;top:681.5px;font-size:9px;color:#444;font-weight:normal">自动拍照语音</div><div class="t" style="left:421.5px;top:692.5px;font-size:9px;color:#444;font-weight:normal">播报系统</div><div class="t" style="left:356.5px;top:749.5px;font-size:9px;color:#444;font-weight:normal">高清检测抓拍</div><div class="t" style="left:374.0px;top:761.0px;font-size:9px;color:#444;font-weight:normal">单元</div><div class="t" style="left:336.5px;top:779.0px;font-size:14px;color:#000;font-weight:bold;-webkit-text-stroke:0.1px #000">林场核心出入口</div><div class="t" style="left:930.0px;top:523.0px;font-size:21px;color:#0b6dc2;font-weight:bold;-webkit-text-stroke:0.6px #0b6dc2">林火监测识别系统</div><div class="t" style="left:774.5px;top:564.0px;font-size:9px;color:#222;font-weight:normal">风力发电机</div><div class="t" style="left:849.5px;top:564.0px;font-size:9px;color:#222;font-weight:normal">太阳能电池板</div><div class="t" style="left:813.0px;top:677.0px;font-size:9px;color:#222;font-weight:normal">风光互补控制器</div><div class="t" style="left:964.0px;top:736.5px;font-size:9px;color:#222;font-weight:normal">蓄电池</div><div class="t" style="left:1051.5px;top:736.5px;font-size:9px;color:#222;font-weight:normal">逆变器</div><div class="t" style="left:990.0px;top:663.5px;font-size:9px;color:#222;font-weight:normal"><span style="font-size:1.1em">220V</span>电源接口</div><div class="t" style="left:1074.0px;top:565.5px;font-size:9px;color:#222;font-weight:normal">电源适配器</div><div class="t" style="left:1134.0px;top:564.0px;font-size:9px;color:#222;font-weight:normal">防盗报警摄像机</div><div class="t" style="left:1100.5px;top:678.5px;font-size:9px;color:#222;font-weight:normal">电源适配器</div><div class="t" style="left:1126.0px;top:639.0px;font-size:9px;color:#222;font-weight:normal">多光谱云台摄像机</div><div class="t" style="left:1087.0px;top:719.0px;font-size:9px;color:#222;font-weight:normal">气象六要素传感器</div><div class="t" style="left:946.0px;top:777.0px;font-size:14px;color:#000;font-weight:bold;-webkit-text-stroke:0.1px #000">林区监控点</div><div class="t" style="left:1274.0px;top:523.0px;font-size:21px;color:#0b6dc2;font-weight:bold;-webkit-text-stroke:0.6px #0b6dc2">航空巡护系统</div><div class="t" style="left:1483.5px;top:505.0px;font-size:21px;color:#0b6dc2;font-weight:bold;-webkit-text-stroke:0.6px #0b6dc2">应急指挥<span style="font-size:1.1em">/</span>日常巡护</div><div class="t" style="left:1515.5px;top:628.0px;font-size:14px;color:#000;font-weight:bold;-webkit-text-stroke:0.1px #000">应急指挥车载系统</div><div class="t" style="left:1515.0px;top:779.0px;font-size:14px;color:#000;font-weight:bold;-webkit-text-stroke:0.1px #000">单兵移动巡护系统</div>
</body></html>
